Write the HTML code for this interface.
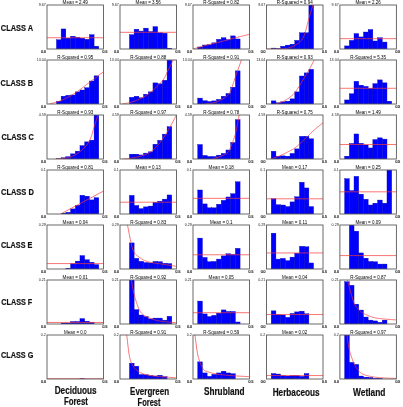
<!DOCTYPE html>
<html><head><meta charset="utf-8"><style>
html,body{margin:0;padding:0;background:#fff;}
body{width:403px;height:407px;overflow:hidden;}
svg{display:block;will-change:transform;font-family:"Liberation Sans",sans-serif;}
</style></head><body>
<svg width="403" height="407" viewBox="0 0 403 407">
<rect width="403" height="407" fill="#fff"/>
<defs>
<clipPath id="k00"><rect x="47.00" y="5.00" width="56.50" height="44.00"/></clipPath>
<clipPath id="k01"><rect x="120.00" y="5.00" width="56.50" height="44.00"/></clipPath>
<clipPath id="k02"><rect x="193.00" y="5.00" width="56.50" height="44.00"/></clipPath>
<clipPath id="k03"><rect x="266.50" y="5.00" width="56.50" height="44.00"/></clipPath>
<clipPath id="k04"><rect x="339.90" y="5.00" width="56.50" height="44.00"/></clipPath>
<clipPath id="k10"><rect x="47.00" y="60.00" width="56.50" height="44.00"/></clipPath>
<clipPath id="k11"><rect x="120.00" y="60.00" width="56.50" height="44.00"/></clipPath>
<clipPath id="k12"><rect x="193.00" y="60.00" width="56.50" height="44.00"/></clipPath>
<clipPath id="k13"><rect x="266.50" y="60.00" width="56.50" height="44.00"/></clipPath>
<clipPath id="k14"><rect x="339.90" y="60.00" width="56.50" height="44.00"/></clipPath>
<clipPath id="k20"><rect x="47.00" y="115.00" width="56.50" height="44.00"/></clipPath>
<clipPath id="k21"><rect x="120.00" y="115.00" width="56.50" height="44.00"/></clipPath>
<clipPath id="k22"><rect x="193.00" y="115.00" width="56.50" height="44.00"/></clipPath>
<clipPath id="k23"><rect x="266.50" y="115.00" width="56.50" height="44.00"/></clipPath>
<clipPath id="k24"><rect x="339.90" y="115.00" width="56.50" height="44.00"/></clipPath>
<clipPath id="k30"><rect x="47.00" y="170.00" width="56.50" height="44.00"/></clipPath>
<clipPath id="k31"><rect x="120.00" y="170.00" width="56.50" height="44.00"/></clipPath>
<clipPath id="k32"><rect x="193.00" y="170.00" width="56.50" height="44.00"/></clipPath>
<clipPath id="k33"><rect x="266.50" y="170.00" width="56.50" height="44.00"/></clipPath>
<clipPath id="k34"><rect x="339.90" y="170.00" width="56.50" height="44.00"/></clipPath>
<clipPath id="k40"><rect x="47.00" y="225.00" width="56.50" height="44.00"/></clipPath>
<clipPath id="k41"><rect x="120.00" y="225.00" width="56.50" height="44.00"/></clipPath>
<clipPath id="k42"><rect x="193.00" y="225.00" width="56.50" height="44.00"/></clipPath>
<clipPath id="k43"><rect x="266.50" y="225.00" width="56.50" height="44.00"/></clipPath>
<clipPath id="k44"><rect x="339.90" y="225.00" width="56.50" height="44.00"/></clipPath>
<clipPath id="k50"><rect x="47.00" y="280.00" width="56.50" height="44.00"/></clipPath>
<clipPath id="k51"><rect x="120.00" y="280.00" width="56.50" height="44.00"/></clipPath>
<clipPath id="k52"><rect x="193.00" y="280.00" width="56.50" height="44.00"/></clipPath>
<clipPath id="k53"><rect x="266.50" y="280.00" width="56.50" height="44.00"/></clipPath>
<clipPath id="k54"><rect x="339.90" y="280.00" width="56.50" height="44.00"/></clipPath>
<clipPath id="k60"><rect x="47.00" y="335.00" width="56.50" height="44.00"/></clipPath>
<clipPath id="k61"><rect x="120.00" y="335.00" width="56.50" height="44.00"/></clipPath>
<clipPath id="k62"><rect x="193.00" y="335.00" width="56.50" height="44.00"/></clipPath>
<clipPath id="k63"><rect x="266.50" y="335.00" width="56.50" height="44.00"/></clipPath>
<clipPath id="k64"><rect x="339.90" y="335.00" width="56.50" height="44.00"/></clipPath>
</defs>
<g clip-path="url(#k00)">
<rect x="56.42" y="39.76" width="4.71" height="9.24" fill="#0000ff" stroke="#0000b0" stroke-width="0.35"/>
<rect x="61.12" y="28.94" width="4.71" height="20.06" fill="#0000ff" stroke="#0000b0" stroke-width="0.35"/>
<rect x="65.83" y="38.18" width="4.71" height="10.82" fill="#0000ff" stroke="#0000b0" stroke-width="0.35"/>
<rect x="70.54" y="36.20" width="4.71" height="12.80" fill="#0000ff" stroke="#0000b0" stroke-width="0.35"/>
<rect x="75.25" y="37.25" width="4.71" height="11.75" fill="#0000ff" stroke="#0000b0" stroke-width="0.35"/>
<rect x="79.96" y="38.18" width="4.71" height="10.82" fill="#0000ff" stroke="#0000b0" stroke-width="0.35"/>
<rect x="84.67" y="39.28" width="4.71" height="9.72" fill="#0000ff" stroke="#0000b0" stroke-width="0.35"/>
<rect x="89.38" y="34.66" width="4.71" height="14.34" fill="#0000ff" stroke="#0000b0" stroke-width="0.35"/>
<rect x="94.08" y="46.23" width="4.71" height="2.77" fill="#0000ff" stroke="#0000b0" stroke-width="0.35"/>
<line x1="47.00" y1="37.74" x2="103.50" y2="37.74" stroke="#f53a3a" stroke-width="0.7"/>
</g>
<rect x="47.00" y="5.00" width="56.50" height="44.00" fill="none" stroke="#5a5a5a" stroke-width="0.9"/>
<text x="75.25" y="4.00" font-size="5.0" text-anchor="middle" textLength="25.26" lengthAdjust="spacingAndGlyphs" fill="#000">Mean = 2.49</text>
<text x="45.80" y="6.40" font-size="3.9" text-anchor="end" textLength="7.10" lengthAdjust="spacingAndGlyphs" fill="#1a1a1a">9.67</text>
<text x="46.00" y="52.90" font-size="3.9" text-anchor="end" textLength="4.8" lengthAdjust="spacingAndGlyphs" fill="#1a1a1a" stroke="#1a1a1a" stroke-width="0.2">0.0</text>
<text x="102.60" y="52.90" font-size="3.9" textLength="4.8" lengthAdjust="spacingAndGlyphs" fill="#1a1a1a" stroke="#1a1a1a" stroke-width="0.2">0.5</text>
<g clip-path="url(#k01)">
<rect x="129.42" y="34.66" width="4.71" height="14.34" fill="#0000ff" stroke="#0000b0" stroke-width="0.35"/>
<rect x="134.12" y="29.24" width="4.71" height="19.76" fill="#0000ff" stroke="#0000b0" stroke-width="0.35"/>
<rect x="138.83" y="31.09" width="4.71" height="17.91" fill="#0000ff" stroke="#0000b0" stroke-width="0.35"/>
<rect x="143.54" y="28.14" width="4.71" height="20.86" fill="#0000ff" stroke="#0000b0" stroke-width="0.35"/>
<rect x="148.25" y="31.58" width="4.71" height="17.42" fill="#0000ff" stroke="#0000b0" stroke-width="0.35"/>
<rect x="152.96" y="26.60" width="4.71" height="22.40" fill="#0000ff" stroke="#0000b0" stroke-width="0.35"/>
<rect x="157.67" y="32.81" width="4.71" height="16.19" fill="#0000ff" stroke="#0000b0" stroke-width="0.35"/>
<rect x="162.38" y="33.25" width="4.71" height="15.75" fill="#0000ff" stroke="#0000b0" stroke-width="0.35"/>
<rect x="167.08" y="48.21" width="4.71" height="0.79" fill="#0000ff" stroke="#0000b0" stroke-width="0.35"/>
<line x1="120.00" y1="32.32" x2="176.50" y2="32.32" stroke="#f53a3a" stroke-width="0.7"/>
</g>
<rect x="120.00" y="5.00" width="56.50" height="44.00" fill="none" stroke="#5a5a5a" stroke-width="0.9"/>
<text x="148.25" y="4.00" font-size="5.0" text-anchor="middle" textLength="25.26" lengthAdjust="spacingAndGlyphs" fill="#000">Mean = 3.56</text>
<text x="118.80" y="6.40" font-size="3.9" text-anchor="end" textLength="7.10" lengthAdjust="spacingAndGlyphs" fill="#1a1a1a">9.67</text>
<text x="119.00" y="52.90" font-size="3.9" text-anchor="end" textLength="4.8" lengthAdjust="spacingAndGlyphs" fill="#1a1a1a" stroke="#1a1a1a" stroke-width="0.2">0.0</text>
<text x="175.60" y="52.90" font-size="3.9" textLength="4.8" lengthAdjust="spacingAndGlyphs" fill="#1a1a1a" stroke="#1a1a1a" stroke-width="0.2">0.5</text>
<g clip-path="url(#k02)">
<rect x="197.71" y="46.98" width="4.71" height="2.02" fill="#0000ff" stroke="#0000b0" stroke-width="0.35"/>
<rect x="202.42" y="45.00" width="4.71" height="4.00" fill="#0000ff" stroke="#0000b0" stroke-width="0.35"/>
<rect x="207.12" y="44.69" width="4.71" height="4.31" fill="#0000ff" stroke="#0000b0" stroke-width="0.35"/>
<rect x="211.83" y="42.84" width="4.71" height="6.16" fill="#0000ff" stroke="#0000b0" stroke-width="0.35"/>
<rect x="216.54" y="39.28" width="4.71" height="9.72" fill="#0000ff" stroke="#0000b0" stroke-width="0.35"/>
<rect x="221.25" y="37.74" width="4.71" height="11.26" fill="#0000ff" stroke="#0000b0" stroke-width="0.35"/>
<rect x="225.96" y="39.58" width="4.71" height="9.42" fill="#0000ff" stroke="#0000b0" stroke-width="0.35"/>
<rect x="230.67" y="35.89" width="4.71" height="13.11" fill="#0000ff" stroke="#0000b0" stroke-width="0.35"/>
<rect x="235.38" y="38.97" width="4.71" height="10.03" fill="#0000ff" stroke="#0000b0" stroke-width="0.35"/>
<polyline points="193.00,49.00 193.68,48.81 194.54,48.56 195.54,48.28 196.66,47.95 197.88,47.60 199.18,47.23 200.52,46.85 201.89,46.47 203.26,46.09 204.61,45.72 205.90,45.36 207.12,45.04 208.30,44.74 209.48,44.44 210.66,44.15 211.83,43.87 213.01,43.59 214.19,43.32 215.36,43.04 216.54,42.76 217.72,42.48 218.90,42.20 220.07,41.91 221.25,41.61 222.43,41.30 223.60,40.99 224.78,40.67 225.96,40.35 227.14,40.02 228.31,39.69 229.49,39.37 230.67,39.04 231.84,38.72 233.02,38.40 234.20,38.09 235.38,37.78 236.60,37.47 237.89,37.15 239.24,36.81 240.61,36.48 241.98,36.15 243.32,35.82 244.62,35.51 245.84,35.22 246.96,34.96 247.96,34.72 248.82,34.51 249.50,34.35" fill="none" stroke="#f53a3a" stroke-width="0.7"/>
</g>
<rect x="193.00" y="5.00" width="56.50" height="44.00" fill="none" stroke="#5a5a5a" stroke-width="0.9"/>
<text x="221.25" y="4.00" font-size="5.0" text-anchor="middle" textLength="35.81" lengthAdjust="spacingAndGlyphs" fill="#000">R-Squared = 0.82</text>
<text x="191.80" y="6.40" font-size="3.9" text-anchor="end" textLength="7.10" lengthAdjust="spacingAndGlyphs" fill="#1a1a1a">9.67</text>
<text x="192.00" y="52.90" font-size="3.9" text-anchor="end" textLength="4.8" lengthAdjust="spacingAndGlyphs" fill="#1a1a1a" stroke="#1a1a1a" stroke-width="0.2">0.0</text>
<text x="248.60" y="52.90" font-size="3.9" textLength="4.8" lengthAdjust="spacingAndGlyphs" fill="#1a1a1a" stroke="#1a1a1a" stroke-width="0.2">0.5</text>
<g clip-path="url(#k03)">
<rect x="271.21" y="48.08" width="4.71" height="0.92" fill="#0000ff" stroke="#0000b0" stroke-width="0.35"/>
<rect x="275.92" y="48.56" width="4.71" height="0.44" fill="#0000ff" stroke="#0000b0" stroke-width="0.35"/>
<rect x="280.62" y="46.23" width="4.71" height="2.77" fill="#0000ff" stroke="#0000b0" stroke-width="0.35"/>
<rect x="285.33" y="45.13" width="4.71" height="3.87" fill="#0000ff" stroke="#0000b0" stroke-width="0.35"/>
<rect x="290.04" y="44.20" width="4.71" height="4.80" fill="#0000ff" stroke="#0000b0" stroke-width="0.35"/>
<rect x="294.75" y="40.38" width="4.71" height="8.62" fill="#0000ff" stroke="#0000b0" stroke-width="0.35"/>
<rect x="299.46" y="32.81" width="4.71" height="16.19" fill="#0000ff" stroke="#0000b0" stroke-width="0.35"/>
<rect x="304.17" y="32.81" width="4.71" height="16.19" fill="#0000ff" stroke="#0000b0" stroke-width="0.35"/>
<rect x="308.88" y="5.00" width="4.71" height="44.00" fill="#0000ff" stroke="#0000b0" stroke-width="0.35"/>
<polyline points="266.50,49.00 267.35,48.99 268.44,49.00 269.74,49.00 271.21,49.01 272.79,49.01 274.45,49.01 276.13,49.01 277.80,48.99 279.41,48.96 280.92,48.92 282.28,48.86 283.45,48.78 284.46,48.68 285.37,48.58 286.19,48.47 286.94,48.34 287.64,48.20 288.29,48.05 288.90,47.89 289.50,47.70 290.08,47.51 290.68,47.29 291.29,47.06 291.93,46.80 292.58,46.53 293.24,46.24 293.90,45.93 294.55,45.61 295.19,45.27 295.82,44.92 296.44,44.54 297.04,44.15 297.63,43.74 298.20,43.31 298.75,42.87 299.27,42.40 299.77,41.94 300.23,41.49 300.67,41.05 301.10,40.61 301.50,40.14 301.89,39.65 302.28,39.11 302.65,38.52 303.03,37.86 303.41,37.12 303.79,36.29 304.19,35.36 304.59,34.30 304.99,33.10 305.39,31.79 305.79,30.39 306.19,28.92 306.59,27.41 306.98,25.88 307.37,24.34 307.76,22.83 308.14,21.36 308.51,19.96 308.88,18.64 309.24,17.38 309.60,16.13 309.97,14.90 310.33,13.69 310.69,12.49 311.04,11.33 311.38,10.18 311.71,9.07 312.02,8.00 312.31,6.96 312.58,5.96 312.83,5.00 313.06,4.07 313.26,3.15 313.45,2.25 313.63,1.38 313.78,0.54 313.92,-0.25 314.05,-1.00 314.17,-1.70 314.27,-2.33 314.37,-2.90 314.45,-3.39 314.52,-3.80" fill="none" stroke="#f53a3a" stroke-width="0.7"/>
</g>
<rect x="266.50" y="5.00" width="56.50" height="44.00" fill="none" stroke="#5a5a5a" stroke-width="0.9"/>
<text x="294.75" y="4.00" font-size="5.0" text-anchor="middle" textLength="35.81" lengthAdjust="spacingAndGlyphs" fill="#000">R-Squared = 0.94</text>
<text x="265.30" y="6.40" font-size="3.9" text-anchor="end" textLength="7.10" lengthAdjust="spacingAndGlyphs" fill="#1a1a1a">9.67</text>
<text x="265.50" y="52.90" font-size="3.9" text-anchor="end" textLength="4.8" lengthAdjust="spacingAndGlyphs" fill="#1a1a1a" stroke="#1a1a1a" stroke-width="0.2">0.0</text>
<text x="322.10" y="52.90" font-size="3.9" textLength="4.8" lengthAdjust="spacingAndGlyphs" fill="#1a1a1a" stroke="#1a1a1a" stroke-width="0.2">0.5</text>
<g clip-path="url(#k04)">
<rect x="344.61" y="45.92" width="4.71" height="3.08" fill="#0000ff" stroke="#0000b0" stroke-width="0.35"/>
<rect x="349.32" y="40.38" width="4.71" height="8.62" fill="#0000ff" stroke="#0000b0" stroke-width="0.35"/>
<rect x="354.02" y="33.56" width="4.71" height="15.44" fill="#0000ff" stroke="#0000b0" stroke-width="0.35"/>
<rect x="358.73" y="36.94" width="4.71" height="12.06" fill="#0000ff" stroke="#0000b0" stroke-width="0.35"/>
<rect x="363.44" y="32.02" width="4.71" height="16.98" fill="#0000ff" stroke="#0000b0" stroke-width="0.35"/>
<rect x="368.15" y="29.55" width="4.71" height="19.45" fill="#0000ff" stroke="#0000b0" stroke-width="0.35"/>
<rect x="372.86" y="40.99" width="4.71" height="8.01" fill="#0000ff" stroke="#0000b0" stroke-width="0.35"/>
<rect x="377.57" y="37.74" width="4.71" height="11.26" fill="#0000ff" stroke="#0000b0" stroke-width="0.35"/>
<rect x="382.27" y="42.05" width="4.71" height="6.95" fill="#0000ff" stroke="#0000b0" stroke-width="0.35"/>
<line x1="339.90" y1="38.66" x2="396.40" y2="38.66" stroke="#f53a3a" stroke-width="0.7"/>
</g>
<rect x="339.90" y="5.00" width="56.50" height="44.00" fill="none" stroke="#5a5a5a" stroke-width="0.9"/>
<text x="368.15" y="4.00" font-size="5.0" text-anchor="middle" textLength="25.26" lengthAdjust="spacingAndGlyphs" fill="#000">Mean = 2.26</text>
<text x="338.70" y="6.40" font-size="3.9" text-anchor="end" textLength="7.10" lengthAdjust="spacingAndGlyphs" fill="#1a1a1a">9.67</text>
<text x="338.90" y="52.90" font-size="3.9" text-anchor="end" textLength="4.8" lengthAdjust="spacingAndGlyphs" fill="#1a1a1a" stroke="#1a1a1a" stroke-width="0.2">0.0</text>
<text x="395.50" y="52.90" font-size="3.9" textLength="4.8" lengthAdjust="spacingAndGlyphs" fill="#1a1a1a" stroke="#1a1a1a" stroke-width="0.2">0.5</text>
<g clip-path="url(#k10)">
<rect x="56.42" y="101.18" width="4.71" height="2.82" fill="#0000ff" stroke="#0000b0" stroke-width="0.35"/>
<rect x="61.12" y="96.21" width="4.71" height="7.79" fill="#0000ff" stroke="#0000b0" stroke-width="0.35"/>
<rect x="65.83" y="95.29" width="4.71" height="8.71" fill="#0000ff" stroke="#0000b0" stroke-width="0.35"/>
<rect x="70.54" y="94.98" width="4.71" height="9.02" fill="#0000ff" stroke="#0000b0" stroke-width="0.35"/>
<rect x="75.25" y="91.86" width="4.71" height="12.14" fill="#0000ff" stroke="#0000b0" stroke-width="0.35"/>
<rect x="79.96" y="90.01" width="4.71" height="13.99" fill="#0000ff" stroke="#0000b0" stroke-width="0.35"/>
<rect x="84.67" y="87.68" width="4.71" height="16.32" fill="#0000ff" stroke="#0000b0" stroke-width="0.35"/>
<rect x="89.38" y="80.99" width="4.71" height="23.01" fill="#0000ff" stroke="#0000b0" stroke-width="0.35"/>
<rect x="94.08" y="75.84" width="4.71" height="28.16" fill="#0000ff" stroke="#0000b0" stroke-width="0.35"/>
<polyline points="49.15,104.00 49.72,103.84 50.43,103.66 51.25,103.46 52.18,103.23 53.19,102.98 54.27,102.70 55.39,102.40 56.55,102.07 57.71,101.71 58.88,101.33 60.02,100.92 61.12,100.48 62.22,100.01 63.33,99.51 64.46,98.99 65.61,98.43 66.77,97.85 67.94,97.25 69.12,96.62 70.30,95.96 71.48,95.29 72.67,94.59 73.85,93.87 75.02,93.13 76.20,92.36 77.37,91.56 78.55,90.72 79.73,89.85 80.91,88.96 82.09,88.05 83.27,87.13 84.46,86.20 85.65,85.27 86.83,84.35 88.02,83.43 89.21,82.53 90.44,81.60 91.75,80.61 93.11,79.57 94.49,78.52 95.88,77.47 97.24,76.43 98.55,75.43 99.79,74.49 100.93,73.62 101.94,72.85 102.81,72.19 103.50,71.66" fill="none" stroke="#f53a3a" stroke-width="0.7"/>
</g>
<rect x="47.00" y="60.00" width="56.50" height="44.00" fill="none" stroke="#5a5a5a" stroke-width="0.9"/>
<text x="75.25" y="59.00" font-size="5.0" text-anchor="middle" textLength="35.81" lengthAdjust="spacingAndGlyphs" fill="#000">R-Squared = 0.95</text>
<text x="45.80" y="61.40" font-size="3.9" text-anchor="end" textLength="9.13" lengthAdjust="spacingAndGlyphs" fill="#1a1a1a">13.04</text>
<text x="46.00" y="107.90" font-size="3.9" text-anchor="end" textLength="4.8" lengthAdjust="spacingAndGlyphs" fill="#1a1a1a" stroke="#1a1a1a" stroke-width="0.2">0.0</text>
<text x="102.60" y="107.90" font-size="3.9" textLength="4.8" lengthAdjust="spacingAndGlyphs" fill="#1a1a1a" stroke="#1a1a1a" stroke-width="0.2">0.5</text>
<g clip-path="url(#k11)">
<rect x="129.42" y="97.31" width="4.71" height="6.69" fill="#0000ff" stroke="#0000b0" stroke-width="0.35"/>
<rect x="134.12" y="96.21" width="4.71" height="7.79" fill="#0000ff" stroke="#0000b0" stroke-width="0.35"/>
<rect x="138.83" y="97.80" width="4.71" height="6.20" fill="#0000ff" stroke="#0000b0" stroke-width="0.35"/>
<rect x="143.54" y="94.19" width="4.71" height="9.81" fill="#0000ff" stroke="#0000b0" stroke-width="0.35"/>
<rect x="148.25" y="91.86" width="4.71" height="12.14" fill="#0000ff" stroke="#0000b0" stroke-width="0.35"/>
<rect x="152.96" y="82.88" width="4.71" height="21.12" fill="#0000ff" stroke="#0000b0" stroke-width="0.35"/>
<rect x="157.67" y="83.80" width="4.71" height="20.20" fill="#0000ff" stroke="#0000b0" stroke-width="0.35"/>
<rect x="162.38" y="80.24" width="4.71" height="23.76" fill="#0000ff" stroke="#0000b0" stroke-width="0.35"/>
<rect x="167.08" y="60.00" width="4.71" height="44.00" fill="#0000ff" stroke="#0000b0" stroke-width="0.35"/>
<polyline points="122.15,104.00 122.72,103.89 123.43,103.77 124.25,103.63 125.18,103.48 126.19,103.32 127.27,103.13 128.39,102.91 129.55,102.67 130.71,102.40 131.88,102.09 133.02,101.75 134.12,101.36 135.22,100.94 136.33,100.50 137.46,100.03 138.61,99.53 139.77,99.00 140.94,98.43 142.12,97.83 143.30,97.19 144.48,96.51 145.67,95.78 146.85,95.01 148.02,94.19 149.22,93.29 150.47,92.30 151.75,91.24 153.05,90.13 154.35,88.97 155.63,87.78 156.89,86.58 158.10,85.39 159.26,84.22 160.34,83.09 161.32,82.00 162.21,80.99 162.97,80.03 163.64,79.11 164.21,78.23 164.71,77.37 165.15,76.53 165.55,75.71 165.91,74.89 166.26,74.08 166.61,73.26 166.97,72.44 167.36,71.60 167.80,70.74 168.27,69.84 168.76,68.90 169.27,67.94 169.78,66.96 170.29,65.98 170.79,65.00 171.28,64.05 171.75,63.13 172.19,62.25 172.60,61.43 172.96,60.67 173.28,60.00 173.55,59.40 173.78,58.85 173.97,58.35 174.14,57.90 174.27,57.49 174.38,57.13 174.48,56.80 174.56,56.51 174.62,56.24 174.68,56.01 174.74,55.79 174.81,55.60" fill="none" stroke="#f53a3a" stroke-width="0.7"/>
</g>
<rect x="120.00" y="60.00" width="56.50" height="44.00" fill="none" stroke="#5a5a5a" stroke-width="0.9"/>
<text x="148.25" y="59.00" font-size="5.0" text-anchor="middle" textLength="35.81" lengthAdjust="spacingAndGlyphs" fill="#000">R-Squared = 0.88</text>
<text x="118.80" y="61.40" font-size="3.9" text-anchor="end" textLength="9.13" lengthAdjust="spacingAndGlyphs" fill="#1a1a1a">13.04</text>
<text x="119.00" y="107.90" font-size="3.9" text-anchor="end" textLength="4.8" lengthAdjust="spacingAndGlyphs" fill="#1a1a1a" stroke="#1a1a1a" stroke-width="0.2">0.0</text>
<text x="175.60" y="107.90" font-size="3.9" textLength="4.8" lengthAdjust="spacingAndGlyphs" fill="#1a1a1a" stroke="#1a1a1a" stroke-width="0.2">0.5</text>
<g clip-path="url(#k12)">
<rect x="197.71" y="98.10" width="4.71" height="5.90" fill="#0000ff" stroke="#0000b0" stroke-width="0.35"/>
<rect x="202.42" y="100.74" width="4.71" height="3.26" fill="#0000ff" stroke="#0000b0" stroke-width="0.35"/>
<rect x="207.12" y="101.49" width="4.71" height="2.51" fill="#0000ff" stroke="#0000b0" stroke-width="0.35"/>
<rect x="211.83" y="100.88" width="4.71" height="3.12" fill="#0000ff" stroke="#0000b0" stroke-width="0.35"/>
<rect x="216.54" y="99.34" width="4.71" height="4.66" fill="#0000ff" stroke="#0000b0" stroke-width="0.35"/>
<rect x="221.25" y="96.21" width="4.71" height="7.79" fill="#0000ff" stroke="#0000b0" stroke-width="0.35"/>
<rect x="225.96" y="93.44" width="4.71" height="10.56" fill="#0000ff" stroke="#0000b0" stroke-width="0.35"/>
<rect x="230.67" y="87.19" width="4.71" height="16.81" fill="#0000ff" stroke="#0000b0" stroke-width="0.35"/>
<rect x="235.38" y="70.87" width="4.71" height="33.13" fill="#0000ff" stroke="#0000b0" stroke-width="0.35"/>
<polyline points="204.30,104.00 204.85,103.93 205.54,103.85 206.35,103.78 207.25,103.69 208.24,103.59 209.29,103.48 210.37,103.34 211.47,103.19 212.56,103.00 213.63,102.78 214.65,102.53 215.60,102.24 216.53,101.90 217.48,101.52 218.45,101.10 219.42,100.64 220.38,100.16 221.33,99.66 222.26,99.14 223.16,98.61 224.01,98.07 224.81,97.54 225.55,97.02 226.22,96.52 226.81,96.05 227.32,95.61 227.77,95.20 228.17,94.79 228.52,94.39 228.84,93.96 229.14,93.51 229.43,93.02 229.73,92.47 230.04,91.85 230.37,91.15 230.74,90.36 231.14,89.47 231.53,88.50 231.92,87.45 232.32,86.33 232.72,85.17 233.12,83.95 233.53,82.70 233.94,81.43 234.36,80.14 234.78,78.85 235.22,77.56 235.66,76.28 236.12,74.96 236.62,73.56 237.14,72.09 237.68,70.58 238.22,69.05 238.76,67.53 239.29,66.05 239.80,64.63 240.27,63.29 240.71,62.05 241.09,60.95 241.42,60.00 241.69,59.20 241.91,58.53 242.09,57.96 242.23,57.49 242.34,57.10 242.43,56.78 242.50,56.52 242.55,56.30 242.59,56.11 242.63,55.94 242.67,55.77 242.72,55.60" fill="none" stroke="#f53a3a" stroke-width="0.7"/>
</g>
<rect x="193.00" y="60.00" width="56.50" height="44.00" fill="none" stroke="#5a5a5a" stroke-width="0.9"/>
<text x="221.25" y="59.00" font-size="5.0" text-anchor="middle" textLength="35.81" lengthAdjust="spacingAndGlyphs" fill="#000">R-Squared = 0.91</text>
<text x="191.80" y="61.40" font-size="3.9" text-anchor="end" textLength="9.13" lengthAdjust="spacingAndGlyphs" fill="#1a1a1a">13.04</text>
<text x="192.00" y="107.90" font-size="3.9" text-anchor="end" textLength="4.8" lengthAdjust="spacingAndGlyphs" fill="#1a1a1a" stroke="#1a1a1a" stroke-width="0.2">0.0</text>
<text x="248.60" y="107.90" font-size="3.9" textLength="4.8" lengthAdjust="spacingAndGlyphs" fill="#1a1a1a" stroke="#1a1a1a" stroke-width="0.2">0.5</text>
<g clip-path="url(#k13)">
<rect x="271.21" y="100.88" width="4.71" height="3.12" fill="#0000ff" stroke="#0000b0" stroke-width="0.35"/>
<rect x="275.92" y="102.77" width="4.71" height="1.23" fill="#0000ff" stroke="#0000b0" stroke-width="0.35"/>
<rect x="280.62" y="101.84" width="4.71" height="2.16" fill="#0000ff" stroke="#0000b0" stroke-width="0.35"/>
<rect x="285.33" y="101.18" width="4.71" height="2.82" fill="#0000ff" stroke="#0000b0" stroke-width="0.35"/>
<rect x="290.04" y="98.85" width="4.71" height="5.15" fill="#0000ff" stroke="#0000b0" stroke-width="0.35"/>
<rect x="294.75" y="91.86" width="4.71" height="12.14" fill="#0000ff" stroke="#0000b0" stroke-width="0.35"/>
<rect x="299.46" y="76.02" width="4.71" height="27.98" fill="#0000ff" stroke="#0000b0" stroke-width="0.35"/>
<rect x="304.17" y="72.89" width="4.71" height="31.11" fill="#0000ff" stroke="#0000b0" stroke-width="0.35"/>
<rect x="308.88" y="69.33" width="4.71" height="34.67" fill="#0000ff" stroke="#0000b0" stroke-width="0.35"/>
<polyline points="275.54,104.00 276.00,103.84 276.58,103.67 277.27,103.47 278.03,103.25 278.86,103.00 279.74,102.73 280.66,102.43 281.59,102.10 282.52,101.75 283.43,101.36 284.31,100.94 285.14,100.48 285.95,100.00 286.75,99.50 287.55,98.99 288.35,98.45 289.16,97.87 289.96,97.27 290.76,96.62 291.56,95.93 292.36,95.20 293.16,94.41 293.96,93.56 294.75,92.65 295.56,91.64 296.39,90.50 297.23,89.28 298.08,87.97 298.93,86.62 299.77,85.25 300.60,83.88 301.40,82.53 302.16,81.23 302.89,80.00 303.57,78.87 304.19,77.86 304.74,76.98 305.23,76.19 305.68,75.49 306.08,74.85 306.44,74.26 306.79,73.70 307.12,73.16 307.44,72.62 307.77,72.06 308.11,71.47 308.48,70.83 308.88,70.12 309.31,69.34 309.77,68.50 310.25,67.62 310.74,66.71 311.24,65.78 311.73,64.85 312.21,63.93 312.68,63.04 313.11,62.18 313.52,61.38 313.88,60.65 314.19,60.00 314.45,59.42 314.67,58.88 314.86,58.39 315.01,57.95 315.14,57.54 315.25,57.17 315.34,56.83 315.42,56.53 315.48,56.26 315.54,56.01 315.60,55.79 315.65,55.60" fill="none" stroke="#f53a3a" stroke-width="0.7"/>
</g>
<rect x="266.50" y="60.00" width="56.50" height="44.00" fill="none" stroke="#5a5a5a" stroke-width="0.9"/>
<text x="294.75" y="59.00" font-size="5.0" text-anchor="middle" textLength="35.81" lengthAdjust="spacingAndGlyphs" fill="#000">R-Squared = 0.93</text>
<text x="265.30" y="61.40" font-size="3.9" text-anchor="end" textLength="9.13" lengthAdjust="spacingAndGlyphs" fill="#1a1a1a">13.04</text>
<text x="265.50" y="107.90" font-size="3.9" text-anchor="end" textLength="4.8" lengthAdjust="spacingAndGlyphs" fill="#1a1a1a" stroke="#1a1a1a" stroke-width="0.2">0.0</text>
<text x="322.10" y="107.90" font-size="3.9" textLength="4.8" lengthAdjust="spacingAndGlyphs" fill="#1a1a1a" stroke="#1a1a1a" stroke-width="0.2">0.5</text>
<g clip-path="url(#k14)">
<rect x="344.61" y="99.95" width="4.71" height="4.05" fill="#0000ff" stroke="#0000b0" stroke-width="0.35"/>
<rect x="349.32" y="93.75" width="4.71" height="10.25" fill="#0000ff" stroke="#0000b0" stroke-width="0.35"/>
<rect x="354.02" y="81.30" width="4.71" height="22.70" fill="#0000ff" stroke="#0000b0" stroke-width="0.35"/>
<rect x="358.73" y="85.17" width="4.71" height="18.83" fill="#0000ff" stroke="#0000b0" stroke-width="0.35"/>
<rect x="363.44" y="86.40" width="4.71" height="17.60" fill="#0000ff" stroke="#0000b0" stroke-width="0.35"/>
<rect x="368.15" y="88.29" width="4.71" height="15.71" fill="#0000ff" stroke="#0000b0" stroke-width="0.35"/>
<rect x="372.86" y="83.63" width="4.71" height="20.37" fill="#0000ff" stroke="#0000b0" stroke-width="0.35"/>
<rect x="377.57" y="79.89" width="4.71" height="24.11" fill="#0000ff" stroke="#0000b0" stroke-width="0.35"/>
<rect x="382.27" y="82.84" width="4.71" height="21.16" fill="#0000ff" stroke="#0000b0" stroke-width="0.35"/>
<rect x="386.98" y="101.18" width="4.71" height="2.82" fill="#0000ff" stroke="#0000b0" stroke-width="0.35"/>
<line x1="339.90" y1="88.29" x2="396.40" y2="88.29" stroke="#f53a3a" stroke-width="0.7"/>
</g>
<rect x="339.90" y="60.00" width="56.50" height="44.00" fill="none" stroke="#5a5a5a" stroke-width="0.9"/>
<text x="368.15" y="59.00" font-size="5.0" text-anchor="middle" textLength="35.81" lengthAdjust="spacingAndGlyphs" fill="#000">R-Squared = 5.35</text>
<text x="338.70" y="61.40" font-size="3.9" text-anchor="end" textLength="9.13" lengthAdjust="spacingAndGlyphs" fill="#1a1a1a">13.04</text>
<text x="338.90" y="107.90" font-size="3.9" text-anchor="end" textLength="4.8" lengthAdjust="spacingAndGlyphs" fill="#1a1a1a" stroke="#1a1a1a" stroke-width="0.2">0.0</text>
<text x="395.50" y="107.90" font-size="3.9" textLength="4.8" lengthAdjust="spacingAndGlyphs" fill="#1a1a1a" stroke="#1a1a1a" stroke-width="0.2">0.5</text>
<g clip-path="url(#k20)">
<rect x="56.42" y="158.78" width="4.71" height="0.22" fill="#0000ff" stroke="#0000b0" stroke-width="0.35"/>
<rect x="61.12" y="157.77" width="4.71" height="1.23" fill="#0000ff" stroke="#0000b0" stroke-width="0.35"/>
<rect x="65.83" y="156.67" width="4.71" height="2.33" fill="#0000ff" stroke="#0000b0" stroke-width="0.35"/>
<rect x="70.54" y="153.85" width="4.71" height="5.15" fill="#0000ff" stroke="#0000b0" stroke-width="0.35"/>
<rect x="75.25" y="151.21" width="4.71" height="7.79" fill="#0000ff" stroke="#0000b0" stroke-width="0.35"/>
<rect x="79.96" y="145.62" width="4.71" height="13.38" fill="#0000ff" stroke="#0000b0" stroke-width="0.35"/>
<rect x="84.67" y="141.88" width="4.71" height="17.12" fill="#0000ff" stroke="#0000b0" stroke-width="0.35"/>
<rect x="89.38" y="140.17" width="4.71" height="18.83" fill="#0000ff" stroke="#0000b0" stroke-width="0.35"/>
<rect x="94.08" y="115.00" width="4.71" height="44.00" fill="#0000ff" stroke="#0000b0" stroke-width="0.35"/>
<polyline points="55.48,159.00 56.17,158.93 57.05,158.85 58.10,158.78 59.27,158.69 60.55,158.59 61.88,158.48 63.26,158.34 64.64,158.19 66.00,158.00 67.29,157.78 68.51,157.53 69.60,157.24 70.60,156.92 71.57,156.57 72.50,156.19 73.40,155.79 74.28,155.36 75.14,154.90 75.98,154.42 76.80,153.90 77.62,153.35 78.43,152.77 79.24,152.16 80.05,151.52 80.87,150.84 81.70,150.13 82.53,149.39 83.36,148.62 84.18,147.82 84.98,146.98 85.76,146.12 86.52,145.23 87.25,144.31 87.94,143.37 88.60,142.40 89.21,141.40 89.76,140.36 90.28,139.26 90.75,138.12 91.18,136.93 91.59,135.72 91.97,134.50 92.33,133.26 92.68,132.03 93.03,130.81 93.37,129.61 93.71,128.44 94.06,127.32 94.43,126.21 94.79,125.07 95.15,123.93 95.50,122.79 95.85,121.66 96.19,120.56 96.52,119.48 96.82,118.45 97.12,117.48 97.39,116.57 97.63,115.74 97.85,115.00 98.04,114.34 98.21,113.76 98.35,113.24 98.47,112.78 98.57,112.38 98.65,112.03 98.72,111.72 98.79,111.45 98.84,111.20 98.89,110.99 98.93,110.79 98.98,110.60" fill="none" stroke="#f53a3a" stroke-width="0.7"/>
</g>
<rect x="47.00" y="115.00" width="56.50" height="44.00" fill="none" stroke="#5a5a5a" stroke-width="0.9"/>
<text x="75.25" y="114.00" font-size="5.0" text-anchor="middle" textLength="35.81" lengthAdjust="spacingAndGlyphs" fill="#000">R-Squared = 0.93</text>
<text x="45.80" y="116.40" font-size="3.9" text-anchor="end" textLength="7.10" lengthAdjust="spacingAndGlyphs" fill="#1a1a1a">4.59</text>
<text x="46.00" y="162.90" font-size="3.9" text-anchor="end" textLength="4.8" lengthAdjust="spacingAndGlyphs" fill="#1a1a1a" stroke="#1a1a1a" stroke-width="0.2">0.0</text>
<text x="102.60" y="162.90" font-size="3.9" textLength="4.8" lengthAdjust="spacingAndGlyphs" fill="#1a1a1a" stroke="#1a1a1a" stroke-width="0.2">0.5</text>
<g clip-path="url(#k21)">
<rect x="129.42" y="154.16" width="4.71" height="4.84" fill="#0000ff" stroke="#0000b0" stroke-width="0.35"/>
<rect x="134.12" y="154.16" width="4.71" height="4.84" fill="#0000ff" stroke="#0000b0" stroke-width="0.35"/>
<rect x="138.83" y="154.95" width="4.71" height="4.05" fill="#0000ff" stroke="#0000b0" stroke-width="0.35"/>
<rect x="143.54" y="153.10" width="4.71" height="5.90" fill="#0000ff" stroke="#0000b0" stroke-width="0.35"/>
<rect x="148.25" y="151.83" width="4.71" height="7.17" fill="#0000ff" stroke="#0000b0" stroke-width="0.35"/>
<rect x="152.96" y="144.22" width="4.71" height="14.78" fill="#0000ff" stroke="#0000b0" stroke-width="0.35"/>
<rect x="157.67" y="140.34" width="4.71" height="18.66" fill="#0000ff" stroke="#0000b0" stroke-width="0.35"/>
<rect x="162.38" y="134.14" width="4.71" height="24.86" fill="#0000ff" stroke="#0000b0" stroke-width="0.35"/>
<rect x="167.08" y="126.66" width="4.71" height="32.34" fill="#0000ff" stroke="#0000b0" stroke-width="0.35"/>
<polyline points="122.15,159.00 122.72,158.95 123.43,158.89 124.25,158.83 125.18,158.77 126.19,158.69 127.27,158.61 128.39,158.51 129.55,158.39 130.71,158.25 131.88,158.09 133.02,157.90 134.12,157.68 135.23,157.44 136.38,157.18 137.57,156.91 138.77,156.62 140.00,156.30 141.22,155.97 142.44,155.61 143.64,155.22 144.81,154.81 145.93,154.38 147.01,153.91 148.02,153.41 148.98,152.89 149.88,152.35 150.73,151.79 151.55,151.20 152.34,150.59 153.11,149.94 153.86,149.27 154.60,148.57 155.34,147.82 156.09,147.04 156.85,146.22 157.63,145.36 158.42,144.45 159.21,143.50 160.00,142.51 160.79,141.49 161.57,140.43 162.36,139.33 163.14,138.20 163.93,137.04 164.71,135.86 165.49,134.65 166.28,133.42 167.06,132.16 167.88,130.81 168.75,129.33 169.64,127.75 170.56,126.10 171.47,124.42 172.37,122.75 173.24,121.13 174.05,119.60 174.80,118.18 175.47,116.91 176.04,115.84 176.50,115.00" fill="none" stroke="#f53a3a" stroke-width="0.7"/>
</g>
<rect x="120.00" y="115.00" width="56.50" height="44.00" fill="none" stroke="#5a5a5a" stroke-width="0.9"/>
<text x="148.25" y="114.00" font-size="5.0" text-anchor="middle" textLength="35.81" lengthAdjust="spacingAndGlyphs" fill="#000">R-Squared = 0.97</text>
<text x="118.80" y="116.40" font-size="3.9" text-anchor="end" textLength="7.10" lengthAdjust="spacingAndGlyphs" fill="#1a1a1a">4.59</text>
<text x="119.00" y="162.90" font-size="3.9" text-anchor="end" textLength="4.8" lengthAdjust="spacingAndGlyphs" fill="#1a1a1a" stroke="#1a1a1a" stroke-width="0.2">0.0</text>
<text x="175.60" y="162.90" font-size="3.9" textLength="4.8" lengthAdjust="spacingAndGlyphs" fill="#1a1a1a" stroke="#1a1a1a" stroke-width="0.2">0.5</text>
<g clip-path="url(#k22)">
<rect x="197.71" y="144.52" width="4.71" height="14.48" fill="#0000ff" stroke="#0000b0" stroke-width="0.35"/>
<rect x="202.42" y="155.44" width="4.71" height="3.56" fill="#0000ff" stroke="#0000b0" stroke-width="0.35"/>
<rect x="207.12" y="156.49" width="4.71" height="2.51" fill="#0000ff" stroke="#0000b0" stroke-width="0.35"/>
<rect x="211.83" y="156.49" width="4.71" height="2.51" fill="#0000ff" stroke="#0000b0" stroke-width="0.35"/>
<rect x="216.54" y="155.13" width="4.71" height="3.87" fill="#0000ff" stroke="#0000b0" stroke-width="0.35"/>
<rect x="221.25" y="153.41" width="4.71" height="5.59" fill="#0000ff" stroke="#0000b0" stroke-width="0.35"/>
<rect x="225.96" y="149.98" width="4.71" height="9.02" fill="#0000ff" stroke="#0000b0" stroke-width="0.35"/>
<rect x="230.67" y="142.50" width="4.71" height="16.50" fill="#0000ff" stroke="#0000b0" stroke-width="0.35"/>
<rect x="235.38" y="119.66" width="4.71" height="39.34" fill="#0000ff" stroke="#0000b0" stroke-width="0.35"/>
<polyline points="212.78,159.00 213.45,158.76 214.34,158.46 215.40,158.12 216.59,157.73 217.88,157.31 219.22,156.86 220.57,156.39 221.90,155.90 223.17,155.39 224.34,154.88 225.37,154.36 226.22,153.85 226.91,153.36 227.49,152.87 227.97,152.40 228.38,151.92 228.72,151.42 229.02,150.91 229.28,150.36 229.54,149.77 229.79,149.14 230.07,148.45 230.38,147.69 230.74,146.86 231.14,145.95 231.55,144.97 231.98,143.94 232.40,142.85 232.83,141.72 233.26,140.54 233.69,139.32 234.11,138.07 234.52,136.80 234.92,135.50 235.30,134.19 235.66,132.86 236.01,131.47 236.35,129.95 236.68,128.35 237.01,126.70 237.33,125.01 237.63,123.33 237.93,121.68 238.21,120.10 238.47,118.61 238.72,117.24 238.95,116.03 239.16,115.00 239.35,114.15 239.52,113.44 239.67,112.85 239.81,112.37 239.92,111.99 240.03,111.68 240.12,111.44 240.20,111.24 240.28,111.08 240.34,110.92 240.40,110.77 240.46,110.60" fill="none" stroke="#f53a3a" stroke-width="0.7"/>
</g>
<rect x="193.00" y="115.00" width="56.50" height="44.00" fill="none" stroke="#5a5a5a" stroke-width="0.9"/>
<text x="221.25" y="114.00" font-size="5.0" text-anchor="middle" textLength="35.81" lengthAdjust="spacingAndGlyphs" fill="#000">R-Squared = 0.78</text>
<text x="191.80" y="116.40" font-size="3.9" text-anchor="end" textLength="7.10" lengthAdjust="spacingAndGlyphs" fill="#1a1a1a">4.59</text>
<text x="192.00" y="162.90" font-size="3.9" text-anchor="end" textLength="4.8" lengthAdjust="spacingAndGlyphs" fill="#1a1a1a" stroke="#1a1a1a" stroke-width="0.2">0.0</text>
<text x="248.60" y="162.90" font-size="3.9" textLength="4.8" lengthAdjust="spacingAndGlyphs" fill="#1a1a1a" stroke="#1a1a1a" stroke-width="0.2">0.5</text>
<g clip-path="url(#k23)">
<rect x="271.21" y="151.21" width="4.71" height="7.79" fill="#0000ff" stroke="#0000b0" stroke-width="0.35"/>
<rect x="275.92" y="156.18" width="4.71" height="2.82" fill="#0000ff" stroke="#0000b0" stroke-width="0.35"/>
<rect x="280.62" y="155.88" width="4.71" height="3.12" fill="#0000ff" stroke="#0000b0" stroke-width="0.35"/>
<rect x="285.33" y="156.18" width="4.71" height="2.82" fill="#0000ff" stroke="#0000b0" stroke-width="0.35"/>
<rect x="290.04" y="153.41" width="4.71" height="5.59" fill="#0000ff" stroke="#0000b0" stroke-width="0.35"/>
<rect x="294.75" y="148.88" width="4.71" height="10.12" fill="#0000ff" stroke="#0000b0" stroke-width="0.35"/>
<rect x="299.46" y="136.30" width="4.71" height="22.70" fill="#0000ff" stroke="#0000b0" stroke-width="0.35"/>
<rect x="304.17" y="136.30" width="4.71" height="22.70" fill="#0000ff" stroke="#0000b0" stroke-width="0.35"/>
<rect x="308.88" y="138.80" width="4.71" height="20.20" fill="#0000ff" stroke="#0000b0" stroke-width="0.35"/>
<polyline points="270.45,159.00 270.95,158.83 271.57,158.63 272.30,158.40 273.11,158.14 274.00,157.85 274.94,157.54 275.91,157.22 276.90,156.88 277.88,156.54 278.84,156.18 279.76,155.83 280.62,155.48 281.46,155.12 282.32,154.72 283.19,154.31 284.06,153.88 284.92,153.45 285.78,153.00 286.62,152.57 287.43,152.14 288.20,151.73 288.93,151.33 289.61,150.97 290.23,150.64 290.77,150.36 291.22,150.14 291.60,149.95 291.93,149.80 292.22,149.66 292.50,149.53 292.78,149.38 293.07,149.21 293.39,149.00 293.77,148.73 294.22,148.41 294.75,148.00 295.36,147.52 296.04,146.98 296.76,146.38 297.53,145.74 298.34,145.06 299.16,144.35 300.01,143.61 300.86,142.87 301.72,142.11 302.56,141.35 303.39,140.60 304.19,139.86 304.97,139.12 305.75,138.36 306.53,137.57 307.31,136.78 308.09,135.98 308.88,135.17 309.66,134.37 310.44,133.57 311.22,132.78 312.00,132.01 312.78,131.26 313.56,130.53 314.38,129.81 315.24,129.06 316.14,128.30 317.05,127.55 317.97,126.80 318.87,126.08 319.73,125.39 320.55,124.74 321.30,124.14 321.97,123.61 322.54,123.16 323.00,122.79" fill="none" stroke="#f53a3a" stroke-width="0.7"/>
</g>
<rect x="266.50" y="115.00" width="56.50" height="44.00" fill="none" stroke="#5a5a5a" stroke-width="0.9"/>
<text x="294.75" y="114.00" font-size="5.0" text-anchor="middle" textLength="35.81" lengthAdjust="spacingAndGlyphs" fill="#000">R-Squared = 0.75</text>
<text x="265.30" y="116.40" font-size="3.9" text-anchor="end" textLength="7.10" lengthAdjust="spacingAndGlyphs" fill="#1a1a1a">4.59</text>
<text x="265.50" y="162.90" font-size="3.9" text-anchor="end" textLength="4.8" lengthAdjust="spacingAndGlyphs" fill="#1a1a1a" stroke="#1a1a1a" stroke-width="0.2">0.0</text>
<text x="322.10" y="162.90" font-size="3.9" textLength="4.8" lengthAdjust="spacingAndGlyphs" fill="#1a1a1a" stroke="#1a1a1a" stroke-width="0.2">0.5</text>
<g clip-path="url(#k24)">
<rect x="344.61" y="156.18" width="4.71" height="2.82" fill="#0000ff" stroke="#0000b0" stroke-width="0.35"/>
<rect x="349.32" y="143.47" width="4.71" height="15.53" fill="#0000ff" stroke="#0000b0" stroke-width="0.35"/>
<rect x="354.02" y="133.96" width="4.71" height="25.04" fill="#0000ff" stroke="#0000b0" stroke-width="0.35"/>
<rect x="358.73" y="143.29" width="4.71" height="15.71" fill="#0000ff" stroke="#0000b0" stroke-width="0.35"/>
<rect x="363.44" y="145.01" width="4.71" height="13.99" fill="#0000ff" stroke="#0000b0" stroke-width="0.35"/>
<rect x="368.15" y="147.96" width="4.71" height="11.04" fill="#0000ff" stroke="#0000b0" stroke-width="0.35"/>
<rect x="372.86" y="139.55" width="4.71" height="19.45" fill="#0000ff" stroke="#0000b0" stroke-width="0.35"/>
<rect x="377.57" y="137.84" width="4.71" height="21.16" fill="#0000ff" stroke="#0000b0" stroke-width="0.35"/>
<rect x="382.27" y="139.11" width="4.71" height="19.89" fill="#0000ff" stroke="#0000b0" stroke-width="0.35"/>
<line x1="339.90" y1="144.52" x2="396.40" y2="144.52" stroke="#f53a3a" stroke-width="0.7"/>
</g>
<rect x="339.90" y="115.00" width="56.50" height="44.00" fill="none" stroke="#5a5a5a" stroke-width="0.9"/>
<text x="368.15" y="114.00" font-size="5.0" text-anchor="middle" textLength="25.26" lengthAdjust="spacingAndGlyphs" fill="#000">Mean = 1.49</text>
<text x="338.70" y="116.40" font-size="3.9" text-anchor="end" textLength="7.10" lengthAdjust="spacingAndGlyphs" fill="#1a1a1a">4.59</text>
<text x="338.90" y="162.90" font-size="3.9" text-anchor="end" textLength="4.8" lengthAdjust="spacingAndGlyphs" fill="#1a1a1a" stroke="#1a1a1a" stroke-width="0.2">0.0</text>
<text x="395.50" y="162.90" font-size="3.9" textLength="4.8" lengthAdjust="spacingAndGlyphs" fill="#1a1a1a" stroke="#1a1a1a" stroke-width="0.2">0.5</text>
<g clip-path="url(#k30)">
<rect x="61.12" y="213.21" width="4.71" height="0.79" fill="#0000ff" stroke="#0000b0" stroke-width="0.35"/>
<rect x="65.83" y="212.28" width="4.71" height="1.72" fill="#0000ff" stroke="#0000b0" stroke-width="0.35"/>
<rect x="70.54" y="208.90" width="4.71" height="5.10" fill="#0000ff" stroke="#0000b0" stroke-width="0.35"/>
<rect x="75.25" y="205.33" width="4.71" height="8.67" fill="#0000ff" stroke="#0000b0" stroke-width="0.35"/>
<rect x="79.96" y="195.26" width="4.71" height="18.74" fill="#0000ff" stroke="#0000b0" stroke-width="0.35"/>
<rect x="84.67" y="196.18" width="4.71" height="17.82" fill="#0000ff" stroke="#0000b0" stroke-width="0.35"/>
<rect x="89.38" y="199.92" width="4.71" height="14.08" fill="#0000ff" stroke="#0000b0" stroke-width="0.35"/>
<rect x="94.08" y="197.72" width="4.71" height="16.28" fill="#0000ff" stroke="#0000b0" stroke-width="0.35"/>
<polyline points="60.56,214.00 103.50,191.08" fill="none" stroke="#f53a3a" stroke-width="0.7"/>
</g>
<rect x="47.00" y="170.00" width="56.50" height="44.00" fill="none" stroke="#5a5a5a" stroke-width="0.9"/>
<text x="75.25" y="169.00" font-size="5.0" text-anchor="middle" textLength="35.81" lengthAdjust="spacingAndGlyphs" fill="#000">R-Squared = 0.81</text>
<text x="45.80" y="171.40" font-size="3.9" text-anchor="end" textLength="5.07" lengthAdjust="spacingAndGlyphs" fill="#1a1a1a">0.1</text>
<text x="46.00" y="217.90" font-size="3.9" text-anchor="end" textLength="4.8" lengthAdjust="spacingAndGlyphs" fill="#1a1a1a" stroke="#1a1a1a" stroke-width="0.2">0.0</text>
<text x="102.60" y="217.90" font-size="3.9" textLength="4.8" lengthAdjust="spacingAndGlyphs" fill="#1a1a1a" stroke="#1a1a1a" stroke-width="0.2">0.5</text>
<g clip-path="url(#k31)">
<rect x="129.42" y="195.39" width="4.71" height="18.61" fill="#0000ff" stroke="#0000b0" stroke-width="0.35"/>
<rect x="134.12" y="205.46" width="4.71" height="8.54" fill="#0000ff" stroke="#0000b0" stroke-width="0.35"/>
<rect x="138.83" y="208.59" width="4.71" height="5.41" fill="#0000ff" stroke="#0000b0" stroke-width="0.35"/>
<rect x="143.54" y="206.87" width="4.71" height="7.13" fill="#0000ff" stroke="#0000b0" stroke-width="0.35"/>
<rect x="148.25" y="206.08" width="4.71" height="7.92" fill="#0000ff" stroke="#0000b0" stroke-width="0.35"/>
<rect x="152.96" y="202.38" width="4.71" height="11.62" fill="#0000ff" stroke="#0000b0" stroke-width="0.35"/>
<rect x="157.67" y="201.15" width="4.71" height="12.85" fill="#0000ff" stroke="#0000b0" stroke-width="0.35"/>
<rect x="162.38" y="199.13" width="4.71" height="14.87" fill="#0000ff" stroke="#0000b0" stroke-width="0.35"/>
<rect x="167.08" y="194.95" width="4.71" height="19.05" fill="#0000ff" stroke="#0000b0" stroke-width="0.35"/>
<line x1="120.00" y1="202.21" x2="176.50" y2="202.21" stroke="#f53a3a" stroke-width="0.7"/>
</g>
<rect x="120.00" y="170.00" width="56.50" height="44.00" fill="none" stroke="#5a5a5a" stroke-width="0.9"/>
<text x="148.25" y="169.00" font-size="5.0" text-anchor="middle" textLength="25.26" lengthAdjust="spacingAndGlyphs" fill="#000">Mean = 0.13</text>
<text x="118.80" y="171.40" font-size="3.9" text-anchor="end" textLength="5.07" lengthAdjust="spacingAndGlyphs" fill="#1a1a1a">0.1</text>
<text x="119.00" y="217.90" font-size="3.9" text-anchor="end" textLength="4.8" lengthAdjust="spacingAndGlyphs" fill="#1a1a1a" stroke="#1a1a1a" stroke-width="0.2">0.0</text>
<text x="175.60" y="217.90" font-size="3.9" textLength="4.8" lengthAdjust="spacingAndGlyphs" fill="#1a1a1a" stroke="#1a1a1a" stroke-width="0.2">0.5</text>
<g clip-path="url(#k32)">
<rect x="197.71" y="189.98" width="4.71" height="24.02" fill="#0000ff" stroke="#0000b0" stroke-width="0.35"/>
<rect x="202.42" y="203.92" width="4.71" height="10.08" fill="#0000ff" stroke="#0000b0" stroke-width="0.35"/>
<rect x="207.12" y="207.80" width="4.71" height="6.20" fill="#0000ff" stroke="#0000b0" stroke-width="0.35"/>
<rect x="211.83" y="207.80" width="4.71" height="6.20" fill="#0000ff" stroke="#0000b0" stroke-width="0.35"/>
<rect x="216.54" y="204.23" width="4.71" height="9.77" fill="#0000ff" stroke="#0000b0" stroke-width="0.35"/>
<rect x="221.25" y="200.36" width="4.71" height="13.64" fill="#0000ff" stroke="#0000b0" stroke-width="0.35"/>
<rect x="225.96" y="196.97" width="4.71" height="17.03" fill="#0000ff" stroke="#0000b0" stroke-width="0.35"/>
<rect x="230.67" y="193.72" width="4.71" height="20.28" fill="#0000ff" stroke="#0000b0" stroke-width="0.35"/>
<rect x="235.38" y="181.79" width="4.71" height="32.21" fill="#0000ff" stroke="#0000b0" stroke-width="0.35"/>
<line x1="193.00" y1="198.34" x2="249.50" y2="198.34" stroke="#f53a3a" stroke-width="0.7"/>
</g>
<rect x="193.00" y="170.00" width="56.50" height="44.00" fill="none" stroke="#5a5a5a" stroke-width="0.9"/>
<text x="221.25" y="169.00" font-size="5.0" text-anchor="middle" textLength="25.26" lengthAdjust="spacingAndGlyphs" fill="#000">Mean = 0.18</text>
<text x="191.80" y="171.40" font-size="3.9" text-anchor="end" textLength="5.07" lengthAdjust="spacingAndGlyphs" fill="#1a1a1a">0.1</text>
<text x="192.00" y="217.90" font-size="3.9" text-anchor="end" textLength="4.8" lengthAdjust="spacingAndGlyphs" fill="#1a1a1a" stroke="#1a1a1a" stroke-width="0.2">0.0</text>
<text x="248.60" y="217.90" font-size="3.9" textLength="4.8" lengthAdjust="spacingAndGlyphs" fill="#1a1a1a" stroke="#1a1a1a" stroke-width="0.2">0.5</text>
<g clip-path="url(#k33)">
<rect x="271.21" y="198.82" width="4.71" height="15.18" fill="#0000ff" stroke="#0000b0" stroke-width="0.35"/>
<rect x="275.92" y="204.72" width="4.71" height="9.28" fill="#0000ff" stroke="#0000b0" stroke-width="0.35"/>
<rect x="280.62" y="205.02" width="4.71" height="8.98" fill="#0000ff" stroke="#0000b0" stroke-width="0.35"/>
<rect x="285.33" y="206.56" width="4.71" height="7.44" fill="#0000ff" stroke="#0000b0" stroke-width="0.35"/>
<rect x="290.04" y="201.90" width="4.71" height="12.10" fill="#0000ff" stroke="#0000b0" stroke-width="0.35"/>
<rect x="294.75" y="196.80" width="4.71" height="17.20" fill="#0000ff" stroke="#0000b0" stroke-width="0.35"/>
<rect x="299.46" y="182.23" width="4.71" height="31.77" fill="#0000ff" stroke="#0000b0" stroke-width="0.35"/>
<rect x="304.17" y="187.95" width="4.71" height="26.05" fill="#0000ff" stroke="#0000b0" stroke-width="0.35"/>
<rect x="308.88" y="206.56" width="4.71" height="7.44" fill="#0000ff" stroke="#0000b0" stroke-width="0.35"/>
<line x1="266.50" y1="198.82" x2="323.00" y2="198.82" stroke="#f53a3a" stroke-width="0.7"/>
</g>
<rect x="266.50" y="170.00" width="56.50" height="44.00" fill="none" stroke="#5a5a5a" stroke-width="0.9"/>
<text x="294.75" y="169.00" font-size="5.0" text-anchor="middle" textLength="25.26" lengthAdjust="spacingAndGlyphs" fill="#000">Mean = 0.17</text>
<text x="265.30" y="171.40" font-size="3.9" text-anchor="end" textLength="5.07" lengthAdjust="spacingAndGlyphs" fill="#1a1a1a">0.1</text>
<text x="265.50" y="217.90" font-size="3.9" text-anchor="end" textLength="4.8" lengthAdjust="spacingAndGlyphs" fill="#1a1a1a" stroke="#1a1a1a" stroke-width="0.2">0.0</text>
<text x="322.10" y="217.90" font-size="3.9" textLength="4.8" lengthAdjust="spacingAndGlyphs" fill="#1a1a1a" stroke="#1a1a1a" stroke-width="0.2">0.5</text>
<g clip-path="url(#k34)">
<rect x="344.61" y="178.67" width="4.71" height="35.33" fill="#0000ff" stroke="#0000b0" stroke-width="0.35"/>
<rect x="349.32" y="190.59" width="4.71" height="23.41" fill="#0000ff" stroke="#0000b0" stroke-width="0.35"/>
<rect x="354.02" y="176.34" width="4.71" height="37.66" fill="#0000ff" stroke="#0000b0" stroke-width="0.35"/>
<rect x="358.73" y="194.16" width="4.71" height="19.84" fill="#0000ff" stroke="#0000b0" stroke-width="0.35"/>
<rect x="363.44" y="199.26" width="4.71" height="14.74" fill="#0000ff" stroke="#0000b0" stroke-width="0.35"/>
<rect x="368.15" y="205.02" width="4.71" height="8.98" fill="#0000ff" stroke="#0000b0" stroke-width="0.35"/>
<rect x="372.86" y="203.18" width="4.71" height="10.82" fill="#0000ff" stroke="#0000b0" stroke-width="0.35"/>
<rect x="377.57" y="200.05" width="4.71" height="13.95" fill="#0000ff" stroke="#0000b0" stroke-width="0.35"/>
<rect x="382.27" y="203.18" width="4.71" height="10.82" fill="#0000ff" stroke="#0000b0" stroke-width="0.35"/>
<rect x="386.98" y="170.00" width="4.71" height="44.00" fill="#0000ff" stroke="#0000b0" stroke-width="0.35"/>
<line x1="339.90" y1="191.82" x2="396.40" y2="191.82" stroke="#f53a3a" stroke-width="0.7"/>
</g>
<rect x="339.90" y="170.00" width="56.50" height="44.00" fill="none" stroke="#5a5a5a" stroke-width="0.9"/>
<text x="368.15" y="169.00" font-size="5.0" text-anchor="middle" textLength="25.26" lengthAdjust="spacingAndGlyphs" fill="#000">Mean = 0.25</text>
<text x="338.70" y="171.40" font-size="3.9" text-anchor="end" textLength="5.07" lengthAdjust="spacingAndGlyphs" fill="#1a1a1a">0.1</text>
<text x="338.90" y="217.90" font-size="3.9" text-anchor="end" textLength="4.8" lengthAdjust="spacingAndGlyphs" fill="#1a1a1a" stroke="#1a1a1a" stroke-width="0.2">0.0</text>
<text x="395.50" y="217.90" font-size="3.9" textLength="4.8" lengthAdjust="spacingAndGlyphs" fill="#1a1a1a" stroke="#1a1a1a" stroke-width="0.2">0.5</text>
<g clip-path="url(#k40)">
<rect x="65.83" y="268.38" width="4.71" height="0.62" fill="#0000ff" stroke="#0000b0" stroke-width="0.35"/>
<rect x="70.54" y="263.72" width="4.71" height="5.28" fill="#0000ff" stroke="#0000b0" stroke-width="0.35"/>
<rect x="75.25" y="261.12" width="4.71" height="7.88" fill="#0000ff" stroke="#0000b0" stroke-width="0.35"/>
<rect x="79.96" y="255.58" width="4.71" height="13.42" fill="#0000ff" stroke="#0000b0" stroke-width="0.35"/>
<rect x="84.67" y="259.76" width="4.71" height="9.24" fill="#0000ff" stroke="#0000b0" stroke-width="0.35"/>
<rect x="89.38" y="262.22" width="4.71" height="6.78" fill="#0000ff" stroke="#0000b0" stroke-width="0.35"/>
<rect x="94.08" y="264.60" width="4.71" height="4.40" fill="#0000ff" stroke="#0000b0" stroke-width="0.35"/>
<line x1="47.00" y1="263.59" x2="103.50" y2="263.59" stroke="#f53a3a" stroke-width="0.7"/>
</g>
<rect x="47.00" y="225.00" width="56.50" height="44.00" fill="none" stroke="#5a5a5a" stroke-width="0.9"/>
<text x="75.25" y="224.00" font-size="5.0" text-anchor="middle" textLength="25.26" lengthAdjust="spacingAndGlyphs" fill="#000">Mean = 0.04</text>
<text x="45.80" y="226.40" font-size="3.9" text-anchor="end" textLength="7.10" lengthAdjust="spacingAndGlyphs" fill="#1a1a1a">0.29</text>
<text x="46.00" y="272.90" font-size="3.9" text-anchor="end" textLength="4.8" lengthAdjust="spacingAndGlyphs" fill="#1a1a1a" stroke="#1a1a1a" stroke-width="0.2">0.0</text>
<text x="102.60" y="272.90" font-size="3.9" textLength="4.8" lengthAdjust="spacingAndGlyphs" fill="#1a1a1a" stroke="#1a1a1a" stroke-width="0.2">0.5</text>
<g clip-path="url(#k41)">
<rect x="129.42" y="242.91" width="4.71" height="26.09" fill="#0000ff" stroke="#0000b0" stroke-width="0.35"/>
<rect x="134.12" y="258.35" width="4.71" height="10.65" fill="#0000ff" stroke="#0000b0" stroke-width="0.35"/>
<rect x="138.83" y="261.30" width="4.71" height="7.70" fill="#0000ff" stroke="#0000b0" stroke-width="0.35"/>
<rect x="143.54" y="262.53" width="4.71" height="6.47" fill="#0000ff" stroke="#0000b0" stroke-width="0.35"/>
<rect x="148.25" y="262.97" width="4.71" height="6.03" fill="#0000ff" stroke="#0000b0" stroke-width="0.35"/>
<rect x="152.96" y="261.43" width="4.71" height="7.57" fill="#0000ff" stroke="#0000b0" stroke-width="0.35"/>
<rect x="157.67" y="261.74" width="4.71" height="7.26" fill="#0000ff" stroke="#0000b0" stroke-width="0.35"/>
<rect x="162.38" y="263.28" width="4.71" height="5.72" fill="#0000ff" stroke="#0000b0" stroke-width="0.35"/>
<rect x="167.08" y="263.59" width="4.71" height="5.41" fill="#0000ff" stroke="#0000b0" stroke-width="0.35"/>
<polyline points="126.22,220.60 126.26,220.75 126.30,220.85 126.34,220.93 126.39,221.01 126.44,221.12 126.50,221.28 126.59,221.54 126.70,221.90 126.83,222.40 127.00,223.07 127.21,223.92 127.46,225.00 127.76,226.38 128.10,228.08 128.48,230.05 128.90,232.22 129.34,234.53 129.81,236.92 130.29,239.31 130.79,241.65 131.29,243.88 131.79,245.93 132.29,247.74 132.77,249.24 133.24,250.47 133.70,251.52 134.17,252.40 134.63,253.14 135.10,253.77 135.58,254.31 136.07,254.78 136.58,255.21 137.11,255.61 137.67,256.02 138.25,256.46 138.87,256.94 139.51,257.45 140.17,257.94 140.84,258.40 141.53,258.85 142.24,259.27 142.97,259.68 143.73,260.06 144.52,260.43 145.34,260.78 146.20,261.12 147.09,261.44 148.02,261.74 149.00,262.02 150.04,262.27 151.11,262.50 152.22,262.70 153.37,262.89 154.54,263.06 155.73,263.23 156.93,263.39 158.14,263.55 159.35,263.71 160.56,263.89 161.75,264.07 162.99,264.27 164.32,264.48 165.71,264.70 167.14,264.92 168.57,265.14 169.98,265.36 171.35,265.57 172.64,265.77 173.83,265.95 174.88,266.11 175.78,266.25 176.50,266.36" fill="none" stroke="#f53a3a" stroke-width="0.7"/>
</g>
<rect x="120.00" y="225.00" width="56.50" height="44.00" fill="none" stroke="#5a5a5a" stroke-width="0.9"/>
<text x="148.25" y="224.00" font-size="5.0" text-anchor="middle" textLength="35.81" lengthAdjust="spacingAndGlyphs" fill="#000">R-Squared = 0.83</text>
<text x="118.80" y="226.40" font-size="3.9" text-anchor="end" textLength="7.10" lengthAdjust="spacingAndGlyphs" fill="#1a1a1a">0.29</text>
<text x="119.00" y="272.90" font-size="3.9" text-anchor="end" textLength="4.8" lengthAdjust="spacingAndGlyphs" fill="#1a1a1a" stroke="#1a1a1a" stroke-width="0.2">0.0</text>
<text x="175.60" y="272.90" font-size="3.9" textLength="4.8" lengthAdjust="spacingAndGlyphs" fill="#1a1a1a" stroke="#1a1a1a" stroke-width="0.2">0.5</text>
<g clip-path="url(#k42)">
<rect x="197.71" y="238.11" width="4.71" height="30.89" fill="#0000ff" stroke="#0000b0" stroke-width="0.35"/>
<rect x="202.42" y="257.43" width="4.71" height="11.57" fill="#0000ff" stroke="#0000b0" stroke-width="0.35"/>
<rect x="207.12" y="261.74" width="4.71" height="7.26" fill="#0000ff" stroke="#0000b0" stroke-width="0.35"/>
<rect x="211.83" y="261.43" width="4.71" height="7.57" fill="#0000ff" stroke="#0000b0" stroke-width="0.35"/>
<rect x="216.54" y="259.10" width="4.71" height="9.90" fill="#0000ff" stroke="#0000b0" stroke-width="0.35"/>
<rect x="221.25" y="255.89" width="4.71" height="13.11" fill="#0000ff" stroke="#0000b0" stroke-width="0.35"/>
<rect x="225.96" y="253.73" width="4.71" height="15.27" fill="#0000ff" stroke="#0000b0" stroke-width="0.35"/>
<rect x="230.67" y="254.35" width="4.71" height="14.65" fill="#0000ff" stroke="#0000b0" stroke-width="0.35"/>
<rect x="235.38" y="248.32" width="4.71" height="20.68" fill="#0000ff" stroke="#0000b0" stroke-width="0.35"/>
<line x1="193.00" y1="254.79" x2="249.50" y2="254.79" stroke="#f53a3a" stroke-width="0.7"/>
</g>
<rect x="193.00" y="225.00" width="56.50" height="44.00" fill="none" stroke="#5a5a5a" stroke-width="0.9"/>
<text x="221.25" y="224.00" font-size="5.0" text-anchor="middle" textLength="22.74" lengthAdjust="spacingAndGlyphs" fill="#000">Mean = 0.1</text>
<text x="191.80" y="226.40" font-size="3.9" text-anchor="end" textLength="7.10" lengthAdjust="spacingAndGlyphs" fill="#1a1a1a">0.29</text>
<text x="192.00" y="272.90" font-size="3.9" text-anchor="end" textLength="4.8" lengthAdjust="spacingAndGlyphs" fill="#1a1a1a" stroke="#1a1a1a" stroke-width="0.2">0.0</text>
<text x="248.60" y="272.90" font-size="3.9" textLength="4.8" lengthAdjust="spacingAndGlyphs" fill="#1a1a1a" stroke="#1a1a1a" stroke-width="0.2">0.5</text>
<g clip-path="url(#k43)">
<rect x="271.21" y="233.18" width="4.71" height="35.82" fill="#0000ff" stroke="#0000b0" stroke-width="0.35"/>
<rect x="275.92" y="259.10" width="4.71" height="9.90" fill="#0000ff" stroke="#0000b0" stroke-width="0.35"/>
<rect x="280.62" y="258.35" width="4.71" height="10.65" fill="#0000ff" stroke="#0000b0" stroke-width="0.35"/>
<rect x="285.33" y="260.68" width="4.71" height="8.32" fill="#0000ff" stroke="#0000b0" stroke-width="0.35"/>
<rect x="290.04" y="257.12" width="4.71" height="11.88" fill="#0000ff" stroke="#0000b0" stroke-width="0.35"/>
<rect x="294.75" y="253.25" width="4.71" height="15.75" fill="#0000ff" stroke="#0000b0" stroke-width="0.35"/>
<rect x="299.46" y="246.30" width="4.71" height="22.70" fill="#0000ff" stroke="#0000b0" stroke-width="0.35"/>
<rect x="304.17" y="246.78" width="4.71" height="22.22" fill="#0000ff" stroke="#0000b0" stroke-width="0.35"/>
<rect x="308.88" y="262.97" width="4.71" height="6.03" fill="#0000ff" stroke="#0000b0" stroke-width="0.35"/>
<line x1="266.50" y1="252.94" x2="323.00" y2="252.94" stroke="#f53a3a" stroke-width="0.7"/>
</g>
<rect x="266.50" y="225.00" width="56.50" height="44.00" fill="none" stroke="#5a5a5a" stroke-width="0.9"/>
<text x="294.75" y="224.00" font-size="5.0" text-anchor="middle" textLength="24.92" lengthAdjust="spacingAndGlyphs" fill="#000">Mean = 0.11</text>
<text x="265.30" y="226.40" font-size="3.9" text-anchor="end" textLength="7.10" lengthAdjust="spacingAndGlyphs" fill="#1a1a1a">0.29</text>
<text x="265.50" y="272.90" font-size="3.9" text-anchor="end" textLength="4.8" lengthAdjust="spacingAndGlyphs" fill="#1a1a1a" stroke="#1a1a1a" stroke-width="0.2">0.0</text>
<text x="322.10" y="272.90" font-size="3.9" textLength="4.8" lengthAdjust="spacingAndGlyphs" fill="#1a1a1a" stroke="#1a1a1a" stroke-width="0.2">0.5</text>
<g clip-path="url(#k44)">
<rect x="349.32" y="225.00" width="4.71" height="44.00" fill="#0000ff" stroke="#0000b0" stroke-width="0.35"/>
<rect x="354.02" y="231.16" width="4.71" height="37.84" fill="#0000ff" stroke="#0000b0" stroke-width="0.35"/>
<rect x="358.73" y="252.94" width="4.71" height="16.06" fill="#0000ff" stroke="#0000b0" stroke-width="0.35"/>
<rect x="363.44" y="258.18" width="4.71" height="10.82" fill="#0000ff" stroke="#0000b0" stroke-width="0.35"/>
<rect x="368.15" y="261.43" width="4.71" height="7.57" fill="#0000ff" stroke="#0000b0" stroke-width="0.35"/>
<rect x="372.86" y="261.74" width="4.71" height="7.26" fill="#0000ff" stroke="#0000b0" stroke-width="0.35"/>
<rect x="377.57" y="264.07" width="4.71" height="4.93" fill="#0000ff" stroke="#0000b0" stroke-width="0.35"/>
<rect x="382.27" y="264.07" width="4.71" height="4.93" fill="#0000ff" stroke="#0000b0" stroke-width="0.35"/>
<line x1="339.90" y1="255.58" x2="396.40" y2="255.58" stroke="#f53a3a" stroke-width="0.7"/>
</g>
<rect x="339.90" y="225.00" width="56.50" height="44.00" fill="none" stroke="#5a5a5a" stroke-width="0.9"/>
<text x="368.15" y="224.00" font-size="5.0" text-anchor="middle" textLength="25.26" lengthAdjust="spacingAndGlyphs" fill="#000">Mean = 0.09</text>
<text x="338.70" y="226.40" font-size="3.9" text-anchor="end" textLength="7.10" lengthAdjust="spacingAndGlyphs" fill="#1a1a1a">0.29</text>
<text x="338.90" y="272.90" font-size="3.9" text-anchor="end" textLength="4.8" lengthAdjust="spacingAndGlyphs" fill="#1a1a1a" stroke="#1a1a1a" stroke-width="0.2">0.0</text>
<text x="395.50" y="272.90" font-size="3.9" textLength="4.8" lengthAdjust="spacingAndGlyphs" fill="#1a1a1a" stroke="#1a1a1a" stroke-width="0.2">0.5</text>
<g clip-path="url(#k50)">
<rect x="61.12" y="323.08" width="4.71" height="0.92" fill="#0000ff" stroke="#0000b0" stroke-width="0.35"/>
<rect x="65.83" y="323.08" width="4.71" height="0.92" fill="#0000ff" stroke="#0000b0" stroke-width="0.35"/>
<rect x="70.54" y="321.54" width="4.71" height="2.46" fill="#0000ff" stroke="#0000b0" stroke-width="0.35"/>
<rect x="75.25" y="321.54" width="4.71" height="2.46" fill="#0000ff" stroke="#0000b0" stroke-width="0.35"/>
<rect x="79.96" y="318.59" width="4.71" height="5.41" fill="#0000ff" stroke="#0000b0" stroke-width="0.35"/>
<rect x="84.67" y="321.23" width="4.71" height="2.77" fill="#0000ff" stroke="#0000b0" stroke-width="0.35"/>
<rect x="89.38" y="322.28" width="4.71" height="1.72" fill="#0000ff" stroke="#0000b0" stroke-width="0.35"/>
<line x1="47.00" y1="322.46" x2="103.50" y2="322.46" stroke="#f53a3a" stroke-width="0.7"/>
</g>
<rect x="47.00" y="280.00" width="56.50" height="44.00" fill="none" stroke="#5a5a5a" stroke-width="0.9"/>
<text x="75.25" y="279.00" font-size="5.0" text-anchor="middle" textLength="25.26" lengthAdjust="spacingAndGlyphs" fill="#000">Mean = 0.01</text>
<text x="45.80" y="281.40" font-size="3.9" text-anchor="end" textLength="7.10" lengthAdjust="spacingAndGlyphs" fill="#1a1a1a">0.21</text>
<text x="46.00" y="327.90" font-size="3.9" text-anchor="end" textLength="4.8" lengthAdjust="spacingAndGlyphs" fill="#1a1a1a" stroke="#1a1a1a" stroke-width="0.2">0.0</text>
<text x="102.60" y="327.90" font-size="3.9" textLength="4.8" lengthAdjust="spacingAndGlyphs" fill="#1a1a1a" stroke="#1a1a1a" stroke-width="0.2">0.5</text>
<g clip-path="url(#k51)">
<rect x="129.42" y="280.00" width="4.71" height="44.00" fill="#0000ff" stroke="#0000b0" stroke-width="0.35"/>
<rect x="134.12" y="309.61" width="4.71" height="14.39" fill="#0000ff" stroke="#0000b0" stroke-width="0.35"/>
<rect x="138.83" y="315.02" width="4.71" height="8.98" fill="#0000ff" stroke="#0000b0" stroke-width="0.35"/>
<rect x="143.54" y="316.56" width="4.71" height="7.44" fill="#0000ff" stroke="#0000b0" stroke-width="0.35"/>
<rect x="148.25" y="318.90" width="4.71" height="5.10" fill="#0000ff" stroke="#0000b0" stroke-width="0.35"/>
<rect x="152.96" y="318.10" width="4.71" height="5.90" fill="#0000ff" stroke="#0000b0" stroke-width="0.35"/>
<rect x="157.67" y="318.10" width="4.71" height="5.90" fill="#0000ff" stroke="#0000b0" stroke-width="0.35"/>
<rect x="162.38" y="320.13" width="4.71" height="3.87" fill="#0000ff" stroke="#0000b0" stroke-width="0.35"/>
<rect x="167.08" y="316.26" width="4.71" height="7.74" fill="#0000ff" stroke="#0000b0" stroke-width="0.35"/>
<polyline points="130.17,275.60 130.22,275.78 130.27,275.96 130.33,276.15 130.39,276.35 130.47,276.59 130.55,276.87 130.64,277.20 130.74,277.59 130.86,278.06 130.99,278.61 131.14,279.25 131.30,280.00 131.48,280.88 131.67,281.88 131.88,283.00 132.10,284.22 132.34,285.50 132.58,286.84 132.84,288.21 133.11,289.60 133.39,290.97 133.68,292.33 133.98,293.63 134.29,294.87 134.62,296.09 134.96,297.34 135.32,298.61 135.69,299.88 136.07,301.14 136.47,302.39 136.86,303.60 137.27,304.78 137.67,305.90 138.07,306.95 138.47,307.93 138.87,308.82 139.25,309.61 139.61,310.32 139.96,310.96 140.30,311.53 140.65,312.05 141.00,312.52 141.37,312.97 141.77,313.38 142.19,313.79 142.66,314.19 143.17,314.60 143.73,315.02 144.35,315.46 145.02,315.88 145.73,316.28 146.48,316.68 147.26,317.06 148.06,317.43 148.88,317.78 149.72,318.13 150.56,318.45 151.40,318.76 152.23,319.06 153.05,319.34 153.86,319.60 154.66,319.84 155.46,320.06 156.26,320.26 157.07,320.45 157.89,320.63 158.72,320.79 159.57,320.95 160.44,321.10 161.34,321.25 162.26,321.39 163.22,321.54 164.26,321.68 165.41,321.81 166.63,321.94 167.91,322.06 169.21,322.18 170.50,322.29 171.75,322.39 172.94,322.48 174.04,322.57 175.02,322.65 175.85,322.71 176.50,322.77" fill="none" stroke="#f53a3a" stroke-width="0.7"/>
</g>
<rect x="120.00" y="280.00" width="56.50" height="44.00" fill="none" stroke="#5a5a5a" stroke-width="0.9"/>
<text x="148.25" y="279.00" font-size="5.0" text-anchor="middle" textLength="35.81" lengthAdjust="spacingAndGlyphs" fill="#000">R-Squared = 0.92</text>
<text x="118.80" y="281.40" font-size="3.9" text-anchor="end" textLength="7.10" lengthAdjust="spacingAndGlyphs" fill="#1a1a1a">0.21</text>
<text x="119.00" y="327.90" font-size="3.9" text-anchor="end" textLength="4.8" lengthAdjust="spacingAndGlyphs" fill="#1a1a1a" stroke="#1a1a1a" stroke-width="0.2">0.0</text>
<text x="175.60" y="327.90" font-size="3.9" textLength="4.8" lengthAdjust="spacingAndGlyphs" fill="#1a1a1a" stroke="#1a1a1a" stroke-width="0.2">0.5</text>
<g clip-path="url(#k52)">
<rect x="197.71" y="301.08" width="4.71" height="22.92" fill="#0000ff" stroke="#0000b0" stroke-width="0.35"/>
<rect x="202.42" y="313.92" width="4.71" height="10.08" fill="#0000ff" stroke="#0000b0" stroke-width="0.35"/>
<rect x="207.12" y="316.56" width="4.71" height="7.44" fill="#0000ff" stroke="#0000b0" stroke-width="0.35"/>
<rect x="211.83" y="315.33" width="4.71" height="8.67" fill="#0000ff" stroke="#0000b0" stroke-width="0.35"/>
<rect x="216.54" y="313.18" width="4.71" height="10.82" fill="#0000ff" stroke="#0000b0" stroke-width="0.35"/>
<rect x="221.25" y="309.92" width="4.71" height="14.08" fill="#0000ff" stroke="#0000b0" stroke-width="0.35"/>
<rect x="225.96" y="311.46" width="4.71" height="12.54" fill="#0000ff" stroke="#0000b0" stroke-width="0.35"/>
<rect x="230.67" y="311.46" width="4.71" height="12.54" fill="#0000ff" stroke="#0000b0" stroke-width="0.35"/>
<rect x="235.38" y="321.98" width="4.71" height="2.02" fill="#0000ff" stroke="#0000b0" stroke-width="0.35"/>
<line x1="193.00" y1="312.69" x2="249.50" y2="312.69" stroke="#f53a3a" stroke-width="0.7"/>
</g>
<rect x="193.00" y="280.00" width="56.50" height="44.00" fill="none" stroke="#5a5a5a" stroke-width="0.9"/>
<text x="221.25" y="279.00" font-size="5.0" text-anchor="middle" textLength="25.26" lengthAdjust="spacingAndGlyphs" fill="#000">Mean = 0.05</text>
<text x="191.80" y="281.40" font-size="3.9" text-anchor="end" textLength="7.10" lengthAdjust="spacingAndGlyphs" fill="#1a1a1a">0.21</text>
<text x="192.00" y="327.90" font-size="3.9" text-anchor="end" textLength="4.8" lengthAdjust="spacingAndGlyphs" fill="#1a1a1a" stroke="#1a1a1a" stroke-width="0.2">0.0</text>
<text x="248.60" y="327.90" font-size="3.9" textLength="4.8" lengthAdjust="spacingAndGlyphs" fill="#1a1a1a" stroke="#1a1a1a" stroke-width="0.2">0.5</text>
<g clip-path="url(#k53)">
<rect x="271.21" y="310.84" width="4.71" height="13.16" fill="#0000ff" stroke="#0000b0" stroke-width="0.35"/>
<rect x="275.92" y="314.72" width="4.71" height="9.28" fill="#0000ff" stroke="#0000b0" stroke-width="0.35"/>
<rect x="280.62" y="315.02" width="4.71" height="8.98" fill="#0000ff" stroke="#0000b0" stroke-width="0.35"/>
<rect x="285.33" y="317.36" width="4.71" height="6.64" fill="#0000ff" stroke="#0000b0" stroke-width="0.35"/>
<rect x="290.04" y="313.48" width="4.71" height="10.52" fill="#0000ff" stroke="#0000b0" stroke-width="0.35"/>
<rect x="294.75" y="311.90" width="4.71" height="12.10" fill="#0000ff" stroke="#0000b0" stroke-width="0.35"/>
<rect x="299.46" y="311.15" width="4.71" height="12.85" fill="#0000ff" stroke="#0000b0" stroke-width="0.35"/>
<rect x="304.17" y="313.79" width="4.71" height="10.21" fill="#0000ff" stroke="#0000b0" stroke-width="0.35"/>
<line x1="266.50" y1="314.54" x2="323.00" y2="314.54" stroke="#f53a3a" stroke-width="0.7"/>
</g>
<rect x="266.50" y="280.00" width="56.50" height="44.00" fill="none" stroke="#5a5a5a" stroke-width="0.9"/>
<text x="294.75" y="279.00" font-size="5.0" text-anchor="middle" textLength="25.26" lengthAdjust="spacingAndGlyphs" fill="#000">Mean = 0.04</text>
<text x="265.30" y="281.40" font-size="3.9" text-anchor="end" textLength="7.10" lengthAdjust="spacingAndGlyphs" fill="#1a1a1a">0.21</text>
<text x="265.50" y="327.90" font-size="3.9" text-anchor="end" textLength="4.8" lengthAdjust="spacingAndGlyphs" fill="#1a1a1a" stroke="#1a1a1a" stroke-width="0.2">0.0</text>
<text x="322.10" y="327.90" font-size="3.9" textLength="4.8" lengthAdjust="spacingAndGlyphs" fill="#1a1a1a" stroke="#1a1a1a" stroke-width="0.2">0.5</text>
<g clip-path="url(#k54)">
<rect x="344.61" y="281.72" width="4.71" height="42.28" fill="#0000ff" stroke="#0000b0" stroke-width="0.35"/>
<rect x="349.32" y="285.28" width="4.71" height="38.72" fill="#0000ff" stroke="#0000b0" stroke-width="0.35"/>
<rect x="354.02" y="304.16" width="4.71" height="19.84" fill="#0000ff" stroke="#0000b0" stroke-width="0.35"/>
<rect x="358.73" y="310.05" width="4.71" height="13.95" fill="#0000ff" stroke="#0000b0" stroke-width="0.35"/>
<rect x="363.44" y="317.05" width="4.71" height="6.95" fill="#0000ff" stroke="#0000b0" stroke-width="0.35"/>
<rect x="368.15" y="320.13" width="4.71" height="3.87" fill="#0000ff" stroke="#0000b0" stroke-width="0.35"/>
<rect x="372.86" y="320.92" width="4.71" height="3.08" fill="#0000ff" stroke="#0000b0" stroke-width="0.35"/>
<rect x="377.57" y="322.28" width="4.71" height="1.72" fill="#0000ff" stroke="#0000b0" stroke-width="0.35"/>
<rect x="382.27" y="320.13" width="4.71" height="3.87" fill="#0000ff" stroke="#0000b0" stroke-width="0.35"/>
<polyline points="346.40,275.60 346.44,275.80 346.49,276.05 346.55,276.33 346.61,276.64 346.68,276.98 346.75,277.35 346.84,277.75 346.93,278.17 347.02,278.61 347.13,279.06 347.24,279.52 347.36,280.00 347.48,280.47 347.60,280.92 347.71,281.38 347.84,281.83 347.96,282.31 348.10,282.82 348.26,283.37 348.43,283.97 348.61,284.64 348.83,285.38 349.07,286.20 349.34,287.13 349.64,288.20 349.98,289.43 350.35,290.79 350.75,292.25 351.17,293.77 351.60,295.33 352.04,296.88 352.49,298.39 352.93,299.83 353.37,301.17 353.79,302.37 354.19,303.41 354.58,304.29 354.97,305.05 355.35,305.72 355.73,306.31 356.11,306.83 356.48,307.29 356.86,307.71 357.24,308.09 357.61,308.46 358.00,308.83 358.38,309.21 358.77,309.61 359.15,310.01 359.51,310.39 359.86,310.73 360.20,311.06 360.54,311.37 360.90,311.67 361.27,311.96 361.66,312.25 362.09,312.53 362.55,312.82 363.06,313.13 363.63,313.44 364.25,313.77 364.93,314.12 365.65,314.47 366.41,314.83 367.21,315.19 368.02,315.54 368.86,315.89 369.70,316.22 370.56,316.54 371.40,316.84 372.24,317.11 373.07,317.36 373.87,317.57 374.67,317.76 375.46,317.92 376.25,318.06 377.05,318.19 377.85,318.30 378.67,318.41 379.51,318.51 380.37,318.60 381.25,318.69 382.17,318.79 383.12,318.90 384.16,319.00 385.30,319.11 386.53,319.22 387.80,319.32 389.10,319.42 390.39,319.52 391.65,319.61 392.84,319.70 393.94,319.77 394.92,319.84 395.75,319.90 396.40,319.95" fill="none" stroke="#f53a3a" stroke-width="0.7"/>
</g>
<rect x="339.90" y="280.00" width="56.50" height="44.00" fill="none" stroke="#5a5a5a" stroke-width="0.9"/>
<text x="368.15" y="279.00" font-size="5.0" text-anchor="middle" textLength="35.81" lengthAdjust="spacingAndGlyphs" fill="#000">R-Squared = 0.87</text>
<text x="338.70" y="281.40" font-size="3.9" text-anchor="end" textLength="7.10" lengthAdjust="spacingAndGlyphs" fill="#1a1a1a">0.21</text>
<text x="338.90" y="327.90" font-size="3.9" text-anchor="end" textLength="4.8" lengthAdjust="spacingAndGlyphs" fill="#1a1a1a" stroke="#1a1a1a" stroke-width="0.2">0.0</text>
<text x="395.50" y="327.90" font-size="3.9" textLength="4.8" lengthAdjust="spacingAndGlyphs" fill="#1a1a1a" stroke="#1a1a1a" stroke-width="0.2">0.5</text>
<g clip-path="url(#k60)">
<rect x="79.96" y="378.56" width="4.71" height="0.44" fill="#0000ff" stroke="#0000b0" stroke-width="0.35"/>
<line x1="47.00" y1="378.74" x2="103.50" y2="378.74" stroke="#f53a3a" stroke-width="0.7"/>
</g>
<rect x="47.00" y="335.00" width="56.50" height="44.00" fill="none" stroke="#5a5a5a" stroke-width="0.9"/>
<text x="75.25" y="334.00" font-size="5.0" text-anchor="middle" textLength="22.74" lengthAdjust="spacingAndGlyphs" fill="#000">Mean = 0.0</text>
<text x="45.80" y="336.40" font-size="3.9" text-anchor="end" textLength="5.07" lengthAdjust="spacingAndGlyphs" fill="#1a1a1a">0.2</text>
<text x="46.00" y="382.90" font-size="3.9" text-anchor="end" textLength="4.8" lengthAdjust="spacingAndGlyphs" fill="#1a1a1a" stroke="#1a1a1a" stroke-width="0.2">0.0</text>
<text x="102.60" y="382.90" font-size="3.9" textLength="4.8" lengthAdjust="spacingAndGlyphs" fill="#1a1a1a" stroke="#1a1a1a" stroke-width="0.2">0.5</text>
<g clip-path="url(#k61)">
<rect x="129.42" y="363.16" width="4.71" height="15.84" fill="#0000ff" stroke="#0000b0" stroke-width="0.35"/>
<rect x="134.12" y="366.24" width="4.71" height="12.76" fill="#0000ff" stroke="#0000b0" stroke-width="0.35"/>
<rect x="138.83" y="374.51" width="4.71" height="4.49" fill="#0000ff" stroke="#0000b0" stroke-width="0.35"/>
<rect x="143.54" y="374.82" width="4.71" height="4.18" fill="#0000ff" stroke="#0000b0" stroke-width="0.35"/>
<rect x="148.25" y="375.57" width="4.71" height="3.43" fill="#0000ff" stroke="#0000b0" stroke-width="0.35"/>
<rect x="152.96" y="376.05" width="4.71" height="2.95" fill="#0000ff" stroke="#0000b0" stroke-width="0.35"/>
<rect x="157.67" y="375.26" width="4.71" height="3.74" fill="#0000ff" stroke="#0000b0" stroke-width="0.35"/>
<rect x="162.38" y="376.67" width="4.71" height="2.33" fill="#0000ff" stroke="#0000b0" stroke-width="0.35"/>
<polyline points="125.93,330.60 125.96,330.76 126.00,330.88 126.03,331.00 126.07,331.12 126.11,331.27 126.16,331.48 126.22,331.76 126.29,332.13 126.37,332.62 126.47,333.25 126.59,334.03 126.72,335.00 126.88,336.21 127.06,337.69 127.25,339.39 127.46,341.25 127.69,343.23 127.92,345.27 128.16,347.34 128.41,349.37 128.67,351.31 128.93,353.13 129.18,354.76 129.44,356.16 129.68,357.37 129.92,358.44 130.16,359.40 130.40,360.27 130.64,361.05 130.89,361.76 131.15,362.43 131.43,363.05 131.73,363.66 132.05,364.26 132.39,364.86 132.77,365.49 133.17,366.13 133.59,366.74 134.03,367.33 134.48,367.89 134.96,368.44 135.46,368.96 135.97,369.47 136.51,369.95 137.07,370.41 137.65,370.86 138.25,371.29 138.87,371.70 139.51,372.08 140.15,372.45 140.80,372.79 141.47,373.11 142.16,373.41 142.88,373.70 143.63,373.96 144.41,374.22 145.24,374.46 146.11,374.69 147.04,374.91 148.02,375.13 149.08,375.33 150.23,375.52 151.44,375.68 152.71,375.84 154.03,375.98 155.37,376.11 156.72,376.23 158.07,376.35 159.42,376.46 160.73,376.57 162.00,376.69 163.22,376.80 164.44,376.92 165.70,377.03 166.99,377.14 168.28,377.25 169.56,377.35 170.81,377.45 172.01,377.55 173.13,377.64 174.16,377.72 175.08,377.79 175.86,377.85 176.50,377.90" fill="none" stroke="#f53a3a" stroke-width="0.7"/>
</g>
<rect x="120.00" y="335.00" width="56.50" height="44.00" fill="none" stroke="#5a5a5a" stroke-width="0.9"/>
<text x="148.25" y="334.00" font-size="5.0" text-anchor="middle" textLength="35.81" lengthAdjust="spacingAndGlyphs" fill="#000">R-Squared = 0.91</text>
<text x="118.80" y="336.40" font-size="3.9" text-anchor="end" textLength="5.07" lengthAdjust="spacingAndGlyphs" fill="#1a1a1a">0.2</text>
<text x="119.00" y="382.90" font-size="3.9" text-anchor="end" textLength="4.8" lengthAdjust="spacingAndGlyphs" fill="#1a1a1a" stroke="#1a1a1a" stroke-width="0.2">0.0</text>
<text x="175.60" y="382.90" font-size="3.9" textLength="4.8" lengthAdjust="spacingAndGlyphs" fill="#1a1a1a" stroke="#1a1a1a" stroke-width="0.2">0.5</text>
<g clip-path="url(#k62)">
<rect x="197.71" y="361.88" width="4.71" height="17.12" fill="#0000ff" stroke="#0000b0" stroke-width="0.35"/>
<rect x="202.42" y="372.93" width="4.71" height="6.07" fill="#0000ff" stroke="#0000b0" stroke-width="0.35"/>
<rect x="207.12" y="376.36" width="4.71" height="2.64" fill="#0000ff" stroke="#0000b0" stroke-width="0.35"/>
<rect x="211.83" y="374.34" width="4.71" height="4.66" fill="#0000ff" stroke="#0000b0" stroke-width="0.35"/>
<rect x="216.54" y="372.93" width="4.71" height="6.07" fill="#0000ff" stroke="#0000b0" stroke-width="0.35"/>
<rect x="221.25" y="371.21" width="4.71" height="7.79" fill="#0000ff" stroke="#0000b0" stroke-width="0.35"/>
<rect x="225.96" y="372.93" width="4.71" height="6.07" fill="#0000ff" stroke="#0000b0" stroke-width="0.35"/>
<rect x="230.67" y="373.72" width="4.71" height="5.28" fill="#0000ff" stroke="#0000b0" stroke-width="0.35"/>
<polyline points="194.41,330.60 194.43,330.76 194.45,330.89 194.46,331.00 194.47,331.13 194.48,331.28 194.50,331.49 194.54,331.77 194.58,332.14 194.65,332.63 194.73,333.26 194.84,334.04 194.98,335.00 195.14,336.19 195.32,337.64 195.52,339.28 195.74,341.08 195.98,342.99 196.23,344.98 196.50,347.00 196.79,349.00 197.08,350.94 197.39,352.78 197.70,354.48 198.03,355.99 198.37,357.36 198.74,358.68 199.12,359.95 199.52,361.16 199.93,362.31 200.35,363.40 200.78,364.42 201.21,365.39 201.64,366.29 202.06,367.12 202.48,367.88 202.89,368.57 203.27,369.17 203.63,369.65 203.98,370.04 204.32,370.34 204.65,370.58 205.00,370.77 205.35,370.93 205.73,371.06 206.14,371.19 206.59,371.33 207.09,371.49 207.63,371.70 208.22,371.92 208.84,372.14 209.49,372.35 210.16,372.56 210.87,372.76 211.60,372.96 212.37,373.15 213.17,373.34 214.01,373.52 214.88,373.69 215.79,373.86 216.73,374.03 217.71,374.19 218.73,374.34 219.78,374.48 220.86,374.62 221.98,374.75 223.13,374.88 224.32,375.00 225.54,375.12 226.79,375.23 228.08,375.35 229.39,375.46 230.74,375.57 232.20,375.68 233.81,375.79 235.54,375.90 237.34,376.01 239.17,376.11 241.00,376.21 242.77,376.31 244.46,376.40 246.02,376.48 247.40,376.55 248.58,376.62 249.50,376.67" fill="none" stroke="#f53a3a" stroke-width="0.7"/>
</g>
<rect x="193.00" y="335.00" width="56.50" height="44.00" fill="none" stroke="#5a5a5a" stroke-width="0.9"/>
<text x="221.25" y="334.00" font-size="5.0" text-anchor="middle" textLength="35.81" lengthAdjust="spacingAndGlyphs" fill="#000">R-Squared = 0.59</text>
<text x="191.80" y="336.40" font-size="3.9" text-anchor="end" textLength="5.07" lengthAdjust="spacingAndGlyphs" fill="#1a1a1a">0.2</text>
<text x="192.00" y="382.90" font-size="3.9" text-anchor="end" textLength="4.8" lengthAdjust="spacingAndGlyphs" fill="#1a1a1a" stroke="#1a1a1a" stroke-width="0.2">0.0</text>
<text x="248.60" y="382.90" font-size="3.9" textLength="4.8" lengthAdjust="spacingAndGlyphs" fill="#1a1a1a" stroke="#1a1a1a" stroke-width="0.2">0.5</text>
<g clip-path="url(#k63)">
<rect x="271.21" y="373.54" width="4.71" height="5.46" fill="#0000ff" stroke="#0000b0" stroke-width="0.35"/>
<rect x="275.92" y="374.03" width="4.71" height="4.97" fill="#0000ff" stroke="#0000b0" stroke-width="0.35"/>
<rect x="280.62" y="375.57" width="4.71" height="3.43" fill="#0000ff" stroke="#0000b0" stroke-width="0.35"/>
<rect x="285.33" y="376.05" width="4.71" height="2.95" fill="#0000ff" stroke="#0000b0" stroke-width="0.35"/>
<rect x="290.04" y="375.57" width="4.71" height="3.43" fill="#0000ff" stroke="#0000b0" stroke-width="0.35"/>
<rect x="294.75" y="375.57" width="4.71" height="3.43" fill="#0000ff" stroke="#0000b0" stroke-width="0.35"/>
<rect x="299.46" y="376.36" width="4.71" height="2.64" fill="#0000ff" stroke="#0000b0" stroke-width="0.35"/>
<rect x="304.17" y="373.54" width="4.71" height="5.46" fill="#0000ff" stroke="#0000b0" stroke-width="0.35"/>
<line x1="266.50" y1="375.57" x2="323.00" y2="375.57" stroke="#f53a3a" stroke-width="0.7"/>
</g>
<rect x="266.50" y="335.00" width="56.50" height="44.00" fill="none" stroke="#5a5a5a" stroke-width="0.9"/>
<text x="294.75" y="334.00" font-size="5.0" text-anchor="middle" textLength="25.26" lengthAdjust="spacingAndGlyphs" fill="#000">Mean = 0.02</text>
<text x="265.30" y="336.40" font-size="3.9" text-anchor="end" textLength="5.07" lengthAdjust="spacingAndGlyphs" fill="#1a1a1a">0.2</text>
<text x="265.50" y="382.90" font-size="3.9" text-anchor="end" textLength="4.8" lengthAdjust="spacingAndGlyphs" fill="#1a1a1a" stroke="#1a1a1a" stroke-width="0.2">0.0</text>
<text x="322.10" y="382.90" font-size="3.9" textLength="4.8" lengthAdjust="spacingAndGlyphs" fill="#1a1a1a" stroke="#1a1a1a" stroke-width="0.2">0.5</text>
<g clip-path="url(#k64)">
<rect x="344.61" y="335.00" width="4.71" height="44.00" fill="#0000ff" stroke="#0000b0" stroke-width="0.35"/>
<rect x="349.32" y="362.37" width="4.71" height="16.63" fill="#0000ff" stroke="#0000b0" stroke-width="0.35"/>
<rect x="354.02" y="364.39" width="4.71" height="14.61" fill="#0000ff" stroke="#0000b0" stroke-width="0.35"/>
<rect x="358.73" y="376.05" width="4.71" height="2.95" fill="#0000ff" stroke="#0000b0" stroke-width="0.35"/>
<rect x="363.44" y="377.15" width="4.71" height="1.85" fill="#0000ff" stroke="#0000b0" stroke-width="0.35"/>
<rect x="368.15" y="377.46" width="4.71" height="1.54" fill="#0000ff" stroke="#0000b0" stroke-width="0.35"/>
<rect x="372.86" y="378.38" width="4.71" height="0.62" fill="#0000ff" stroke="#0000b0" stroke-width="0.35"/>
<rect x="377.57" y="378.38" width="4.71" height="0.62" fill="#0000ff" stroke="#0000b0" stroke-width="0.35"/>
<polyline points="346.11,330.60 346.15,330.78 346.18,330.96 346.22,331.14 346.26,331.35 346.31,331.59 346.36,331.87 346.42,332.20 346.49,332.59 346.57,333.06 346.67,333.61 346.78,334.25 346.91,335.00 347.04,335.88 347.19,336.89 347.34,338.01 347.50,339.23 347.68,340.52 347.87,341.86 348.07,343.23 348.29,344.62 348.52,346.01 348.77,347.36 349.04,348.67 349.34,349.92 349.66,351.14 350.01,352.38 350.39,353.64 350.79,354.91 351.20,356.17 351.63,357.41 352.07,358.62 352.51,359.80 352.94,360.92 353.37,361.99 353.79,362.99 354.19,363.91 354.58,364.75 354.97,365.52 355.35,366.23 355.73,366.88 356.11,367.49 356.48,368.06 356.86,368.58 357.24,369.08 357.61,369.56 358.00,370.02 358.38,370.46 358.77,370.90 359.15,371.33 359.51,371.72 359.86,372.07 360.20,372.40 360.54,372.71 360.90,373.00 361.27,373.27 361.66,373.53 362.09,373.78 362.55,374.02 363.06,374.27 363.63,374.51 364.25,374.76 364.93,374.99 365.65,375.21 366.41,375.43 367.21,375.64 368.02,375.84 368.86,376.03 369.70,376.21 370.56,376.38 371.40,376.54 372.24,376.70 373.07,376.84 373.87,376.98 374.67,377.10 375.46,377.21 376.25,377.31 377.05,377.40 377.85,377.49 378.67,377.57 379.51,377.64 380.37,377.71 381.25,377.77 382.17,377.84 383.12,377.90 384.16,377.96 385.30,378.02 386.53,378.07 387.80,378.12 389.10,378.17 390.39,378.21 391.65,378.25 392.84,378.28 393.94,378.31 394.92,378.34 395.75,378.36 396.40,378.38" fill="none" stroke="#f53a3a" stroke-width="0.7"/>
</g>
<rect x="339.90" y="335.00" width="56.50" height="44.00" fill="none" stroke="#5a5a5a" stroke-width="0.9"/>
<text x="368.15" y="334.00" font-size="5.0" text-anchor="middle" textLength="35.81" lengthAdjust="spacingAndGlyphs" fill="#000">R-Squared = 0.97</text>
<text x="338.70" y="336.40" font-size="3.9" text-anchor="end" textLength="5.07" lengthAdjust="spacingAndGlyphs" fill="#1a1a1a">0.2</text>
<text x="338.90" y="382.90" font-size="3.9" text-anchor="end" textLength="4.8" lengthAdjust="spacingAndGlyphs" fill="#1a1a1a" stroke="#1a1a1a" stroke-width="0.2">0.0</text>
<text x="395.50" y="382.90" font-size="3.9" textLength="4.8" lengthAdjust="spacingAndGlyphs" fill="#1a1a1a" stroke="#1a1a1a" stroke-width="0.2">0.5</text>
<text x="0.8" y="30.5" font-size="9.8" font-weight="bold" textLength="32.3" lengthAdjust="spacingAndGlyphs" fill="#111" stroke="#111" stroke-width="0.2">CLASS A</text>
<text x="0.6" y="85.6" font-size="9.8" font-weight="bold" textLength="32.4" lengthAdjust="spacingAndGlyphs" fill="#111" stroke="#111" stroke-width="0.2">CLASS B</text>
<text x="1.4" y="140.0" font-size="9.8" font-weight="bold" textLength="32.4" lengthAdjust="spacingAndGlyphs" fill="#111" stroke="#111" stroke-width="0.2">CLASS C</text>
<text x="1.0" y="195.2" font-size="9.8" font-weight="bold" textLength="32.8" lengthAdjust="spacingAndGlyphs" fill="#111" stroke="#111" stroke-width="0.2">CLASS D</text>
<text x="1.0" y="247.5" font-size="9.8" font-weight="bold" textLength="31.3" lengthAdjust="spacingAndGlyphs" fill="#111" stroke="#111" stroke-width="0.2">CLASS E</text>
<text x="1.3" y="305.4" font-size="9.8" font-weight="bold" textLength="31.0" lengthAdjust="spacingAndGlyphs" fill="#111" stroke="#111" stroke-width="0.2">CLASS F</text>
<text x="1.0" y="358.2" font-size="9.8" font-weight="bold" textLength="32.3" lengthAdjust="spacingAndGlyphs" fill="#111" stroke="#111" stroke-width="0.2">CLASS G</text>
<text x="54.7" y="394.3" font-size="10.3" font-weight="bold" textLength="42.0" lengthAdjust="spacingAndGlyphs" fill="#111" stroke="#111" stroke-width="0.2">Deciduous</text>
<text x="63.9" y="404.8" font-size="10.3" font-weight="bold" textLength="24.0" lengthAdjust="spacingAndGlyphs" fill="#111" stroke="#111" stroke-width="0.2">Forest</text>
<text x="130.1" y="395.4" font-size="10.3" font-weight="bold" textLength="39.0" lengthAdjust="spacingAndGlyphs" fill="#111" stroke="#111" stroke-width="0.2">Evergreen</text>
<text x="137.6" y="406.2" font-size="10.3" font-weight="bold" textLength="22.9" lengthAdjust="spacingAndGlyphs" fill="#111" stroke="#111" stroke-width="0.2">Forest</text>
<text x="203.9" y="395.4" font-size="10.3" font-weight="bold" textLength="40.7" lengthAdjust="spacingAndGlyphs" fill="#111" stroke="#111" stroke-width="0.2">Shrubland</text>
<text x="272.7" y="395.8" font-size="10.3" font-weight="bold" textLength="46.9" lengthAdjust="spacingAndGlyphs" fill="#111" stroke="#111" stroke-width="0.2">Herbaceous</text>
<text x="353.1" y="396.0" font-size="10.3" font-weight="bold" textLength="32.3" lengthAdjust="spacingAndGlyphs" fill="#111" stroke="#111" stroke-width="0.2">Wetland</text>
</svg>
</body></html>
